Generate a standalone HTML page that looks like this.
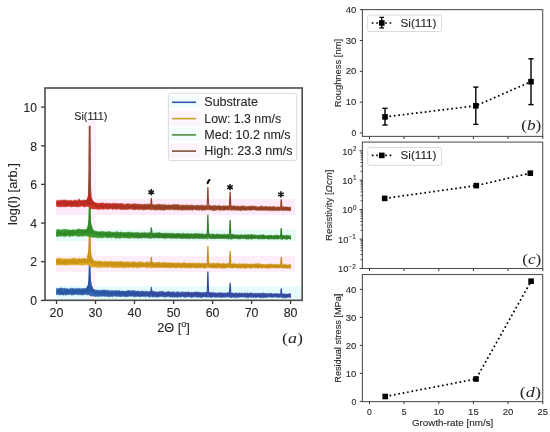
<!DOCTYPE html><html><head><meta charset="utf-8"><style>html,body{margin:0;padding:0;background:#fff}svg{display:block;will-change:transform;filter:blur(0.3px)}text{font-family:"Liberation Sans",sans-serif;fill:#262626;stroke:#262626;stroke-width:0.1px}</style></head><body>
<svg width="550" height="432" viewBox="0 0 550 432">
<rect x="56" y="286" width="246" height="14" fill="#e6fbfb"/>
<rect x="56" y="256" width="239" height="16" fill="#fdeefa"/>
<rect x="56" y="229.5" width="240" height="11.5" fill="#e6fbf8"/>
<rect x="56" y="199" width="239" height="16" fill="#fdeafa"/>
<rect x="87.5" y="118" width="8.5" height="182" fill="#fdf3fc"/>
<defs><linearGradient id="gsub" x1="0" x2="1" y1="0" y2="0"><stop offset="0" stop-color="#3467b2"/><stop offset="0.2" stop-color="#3467b2"/><stop offset="0.45" stop-color="#3b56a8"/><stop offset="1" stop-color="#3b56a8"/></linearGradient>
<linearGradient id="hsub" x1="0" x2="1" y1="0" y2="0"><stop offset="0" stop-color="#2c55a2"/><stop offset="0.2" stop-color="#2c55a2"/><stop offset="0.45" stop-color="#34489e"/><stop offset="1" stop-color="#34489e"/></linearGradient></defs>
<path d="M56.5,288.3 57.7,288.7 58.8,288.6 60.0,288.1 61.2,288.1 62.4,288.1 63.5,288.5 64.7,288.2 65.9,288.7 67.0,288.6 68.2,289.1 69.4,288.9 70.5,288.2 71.7,288.4 72.9,288.3 74.1,288.7 75.2,288.7 76.4,288.2 77.6,288.8 78.7,288.5 79.9,288.6 81.1,288.9 82.3,288.4 83.4,288.7 84.6,288.9 85.8,289.2 86.9,288.6 88.1,288.3 89.3,288.2 90.4,290.4 91.6,290.5 92.8,290.4 94.0,290.3 95.1,290.6 96.3,290.3 97.5,289.9 98.6,290.5 99.8,290.7 101.0,290.3 102.2,290.0 103.3,290.1 104.5,290.0 105.7,290.1 106.8,290.4 108.0,290.2 109.2,290.6 110.3,290.9 111.5,290.4 112.7,290.5 113.9,291.2 115.0,290.4 116.2,290.5 117.4,290.9 118.5,290.3 119.7,290.7 120.9,291.3 122.1,290.9 123.2,291.1 124.4,291.3 125.6,291.3 126.7,290.9 127.9,290.6 129.1,290.6 130.2,290.8 131.4,290.9 132.6,290.6 133.8,290.7 134.9,290.7 136.1,291.3 137.3,291.0 138.4,291.1 139.6,291.6 140.8,291.2 142.0,290.9 143.1,291.2 144.3,291.7 145.5,290.9 146.6,291.4 147.8,291.5 149.0,291.5 150.1,291.8 151.3,291.3 152.5,291.2 153.7,291.6 154.8,291.4 156.0,291.9 157.2,292.0 158.3,292.0 159.5,291.4 160.7,291.5 161.9,291.2 163.0,291.5 164.2,292.2 165.4,292.2 166.5,292.2 167.7,291.5 168.9,291.5 170.0,292.0 171.2,292.2 172.4,292.1 173.6,291.5 174.7,292.4 175.9,292.2 177.1,291.7 178.2,291.8 179.4,292.5 180.6,292.0 181.8,292.3 182.9,291.7 184.1,292.5 185.3,291.8 186.4,292.6 187.6,292.0 188.8,291.8 189.9,292.7 191.1,292.3 192.3,292.2 193.5,292.6 194.6,292.1 195.8,292.1 197.0,292.1 198.1,292.0 199.3,292.3 200.5,292.5 201.7,292.4 202.8,292.5 204.0,292.5 205.2,292.5 206.3,292.0 207.5,292.2 208.7,292.8 209.8,292.4 211.0,292.7 212.2,292.2 213.4,292.4 214.5,293.0 215.7,292.8 216.9,293.1 218.0,292.9 219.2,292.8 220.4,292.7 221.6,292.8 222.7,293.0 223.9,293.3 225.1,292.9 226.2,293.2 227.4,292.5 228.6,292.5 229.7,292.5 230.9,293.3 232.1,292.7 233.3,293.2 234.4,293.4 235.6,292.8 236.8,293.0 237.9,293.6 239.1,292.8 240.3,293.2 241.5,292.9 242.6,293.4 243.8,293.3 245.0,292.7 246.1,293.4 247.3,292.8 248.5,293.6 249.6,292.9 250.8,292.9 252.0,293.1 253.2,293.3 254.3,293.7 255.5,293.1 256.7,293.5 257.8,293.0 259.0,293.7 260.2,293.1 261.4,293.6 262.5,293.1 263.7,293.1 264.9,293.5 266.0,293.6 267.2,293.4 268.4,293.7 269.5,293.3 270.7,293.2 271.9,293.5 273.1,294.0 274.2,293.7 275.4,293.6 276.6,293.5 277.7,294.0 278.9,293.5 280.1,294.3 281.3,294.2 282.4,293.9 283.6,293.8 284.8,294.1 285.9,293.8 287.1,294.2 288.3,293.9 289.4,293.5 290.6,293.6 290.6,297.8 289.4,297.1 288.3,297.3 287.1,297.6 285.9,297.8 284.8,298.0 283.6,297.5 282.4,297.8 281.3,297.4 280.1,297.1 278.9,297.4 277.7,297.5 276.6,297.0 275.4,297.0 274.2,297.1 273.1,297.2 271.9,297.2 270.7,297.1 269.5,297.1 268.4,297.1 267.2,297.0 266.0,297.8 264.9,297.2 263.7,297.7 262.5,297.7 261.4,297.7 260.2,297.8 259.0,297.3 257.8,296.9 256.7,297.5 255.5,297.8 254.3,297.1 253.2,297.7 252.0,297.0 250.8,297.6 249.6,297.1 248.5,297.8 247.3,297.8 246.1,297.3 245.0,297.1 243.8,297.2 242.6,296.8 241.5,297.1 240.3,297.1 239.1,297.2 237.9,297.6 236.8,297.2 235.6,297.7 234.4,297.7 233.3,296.9 232.1,297.4 230.9,297.6 229.7,297.4 228.6,296.9 227.4,297.1 226.2,296.8 225.1,297.6 223.9,296.9 222.7,297.5 221.6,297.6 220.4,297.2 219.2,297.3 218.0,297.2 216.9,297.1 215.7,297.4 214.5,297.1 213.4,296.9 212.2,297.2 211.0,297.4 209.8,297.1 208.7,297.1 207.5,297.1 206.3,297.4 205.2,296.8 204.0,296.6 202.8,297.1 201.7,297.5 200.5,297.4 199.3,297.0 198.1,297.4 197.0,296.9 195.8,297.1 194.6,296.8 193.5,296.7 192.3,297.4 191.1,297.4 189.9,297.1 188.8,296.5 187.6,297.0 186.4,297.1 185.3,297.3 184.1,297.2 182.9,296.6 181.8,296.6 180.6,297.4 179.4,296.8 178.2,297.2 177.1,297.2 175.9,296.9 174.7,297.2 173.6,297.0 172.4,297.2 171.2,296.8 170.0,297.3 168.9,296.5 167.7,296.6 166.5,296.7 165.4,297.3 164.2,296.8 163.0,297.0 161.9,296.6 160.7,296.3 159.5,296.8 158.3,297.0 157.2,297.1 156.0,297.2 154.8,296.5 153.7,297.0 152.5,297.0 151.3,296.6 150.1,296.9 149.0,297.2 147.8,296.2 146.6,296.3 145.5,297.1 144.3,296.3 143.1,296.4 142.0,296.2 140.8,296.6 139.6,297.1 138.4,296.2 137.3,296.5 136.1,296.2 134.9,297.0 133.8,296.4 132.6,296.2 131.4,296.1 130.2,296.2 129.1,296.1 127.9,296.7 126.7,296.4 125.6,296.8 124.4,296.8 123.2,296.0 122.1,296.6 120.9,296.7 119.7,296.5 118.5,296.4 117.4,296.2 116.2,296.4 115.0,296.1 113.9,296.0 112.7,296.8 111.5,296.3 110.3,296.7 109.2,296.7 108.0,296.3 106.8,296.7 105.7,296.1 104.5,296.6 103.3,295.9 102.2,296.2 101.0,296.4 99.8,296.0 98.6,296.7 97.5,296.4 96.3,296.3 95.1,296.6 94.0,296.1 92.8,296.2 91.6,295.9 90.4,296.1 89.3,294.9 88.1,294.7 86.9,295.0 85.8,294.3 84.6,294.5 83.4,295.1 82.3,294.8 81.1,294.9 79.9,294.6 78.7,294.8 77.6,294.7 76.4,294.5 75.2,294.3 74.1,294.7 72.9,294.9 71.7,295.1 70.5,294.4 69.4,294.6 68.2,294.4 67.0,294.7 65.9,295.3 64.7,294.6 63.5,295.2 62.4,294.5 61.2,294.8 60.0,294.9 58.8,294.8 57.7,294.5 56.5,294.6Z" fill="url(#gsub)" stroke="url(#gsub)" stroke-width="0.6" stroke-linejoin="round"/>
<path d="M83.03,291.23 83.23,291.20 83.42,291.17 83.62,291.13 83.81,291.10 84.01,291.06 84.20,291.01 84.40,290.96 84.59,290.91 84.79,290.85 84.98,290.78 85.18,290.70 85.37,290.62 85.57,290.52 85.77,290.41 85.96,290.28 86.16,290.14 86.35,289.97 86.55,289.78 86.74,289.55 86.94,289.29 87.13,288.97 87.33,288.59 87.36,288.51 87.40,288.42 87.44,288.33 87.48,288.24 87.52,288.14 87.56,288.04 87.60,287.93 87.64,287.82 87.68,287.70 87.72,287.58 87.76,287.46 87.79,287.33 87.83,287.19 87.87,287.05 87.91,286.90 87.95,286.75 87.99,286.59 88.03,286.42 88.07,286.24 88.11,286.06 88.15,285.86 88.18,285.66 88.22,285.44 88.26,285.22 88.30,284.98 88.34,284.73 88.38,284.47 88.42,284.19 88.46,283.90 88.50,283.59 88.54,283.26 88.57,282.91 88.61,282.53 88.65,282.13 88.69,281.70 88.73,281.24 88.77,280.74 88.81,280.20 88.85,279.61 88.89,278.96 88.93,278.24 88.96,277.45 89.00,276.56 89.04,275.56 89.08,274.42 89.12,273.11 89.16,271.60 89.20,269.83 89.24,267.75 89.28,265.27 89.32,262.29 89.35,258.72 89.39,254.41 89.43,249.26 89.47,243.21 89.51,236.39 89.55,229.22 89.59,222.57 89.63,217.72 89.67,217.28 89.71,219.07 89.75,223.91 89.78,230.54 89.82,237.69 89.86,244.48 89.90,250.48 89.94,255.59 89.98,259.85 90.02,263.37 90.06,266.28 90.10,268.70 90.14,270.72 90.17,272.41 90.21,273.86 90.25,275.09 90.29,276.16 90.33,277.10 90.37,277.92 90.41,278.65 90.45,279.30 90.49,279.88 90.53,280.41 90.56,280.90 90.60,281.35 90.64,281.76 90.68,282.14 90.72,282.50 90.76,282.84 90.80,283.15 90.84,283.45 90.88,283.73 90.92,284.00 90.95,284.25 90.99,284.50 91.03,284.73 91.07,284.95 91.11,285.17 91.15,285.37 91.19,285.57 91.23,285.76 91.27,285.95 91.31,286.12 91.34,286.30 91.38,286.46 91.42,286.62 91.46,286.78 91.50,286.93 91.54,287.07 91.58,287.21 91.62,287.35 91.66,287.48 91.70,287.61 91.74,287.74 91.77,287.86 91.81,287.98 91.85,288.09 91.89,288.20 91.93,288.31 91.97,288.41 92.01,288.52 92.20,288.99 92.40,289.39 92.59,289.75 92.79,290.07 92.98,290.34 93.18,290.59 93.37,290.81 93.57,291.00 93.76,291.17 93.96,291.33 94.15,291.47 94.35,291.59 94.54,291.71 94.74,291.81 94.93,291.91 95.13,291.99 95.32,292.07 95.52,292.14 95.72,292.21 95.91,292.27 96.11,292.33 96.30,292.38 96.50,292.43 96.69,292.47 96.89,292.52 97.08,292.56 97.28,292.59 97.47,292.63 97.67,292.66 97.86,292.69 98.06,292.72 98.25,292.75 98.45,292.77 98.64,292.80 98.84,292.82 99.03,292.84 99.23,292.87 99.42,293.30 83.03,291.70Z" fill="#2c55a2"/>
<path d="M56.5,292.8 56.7,293.2 57.0,293.6 57.2,290.1 57.4,290.0 57.7,290.9 57.9,292.7 58.1,292.9 58.4,292.6 58.6,291.9 58.8,293.3 59.1,291.9 59.3,292.8 59.5,289.5 59.8,289.5 60.0,291.5 60.2,292.9 60.5,289.5 60.7,292.6 60.9,292.3 61.2,294.0 61.4,292.2 61.7,291.8 61.9,291.7 62.1,293.0 62.4,291.7 62.6,293.9 62.8,292.8 63.1,293.5 63.3,292.1 63.5,293.8 63.8,293.9 64.0,292.6 64.2,292.9 64.5,291.3 64.7,291.5 64.9,290.5 65.2,290.9 65.4,290.7 65.6,289.9 65.9,292.2 66.1,292.5 66.3,289.5 66.6,293.3 66.8,290.6 67.0,291.0 67.3,293.7 67.5,290.1 67.7,289.9 68.0,291.1 68.2,290.6 68.4,290.2 68.7,293.3 68.9,291.5 69.1,291.6 69.4,290.1 69.6,290.3 69.8,290.2 70.1,291.3 70.3,289.9 70.5,290.8 70.8,290.8 71.0,292.9 71.2,293.7 71.5,293.3 71.7,292.3 72.0,293.4 72.2,290.1 72.4,291.4 72.7,291.1 72.9,291.1 73.1,290.8 73.4,291.7 73.6,293.8 73.8,290.3 74.1,290.5 74.3,291.6 74.5,291.5 74.8,290.9 75.0,293.5 75.2,290.5 75.5,292.7 75.7,293.5 75.9,292.6 76.2,290.6 76.4,292.9 76.6,290.5 76.9,289.5 77.1,291.6 77.3,292.1 77.6,291.6 77.8,290.6 78.0,290.1 78.3,290.4 78.5,289.7 78.6,291.9 78.7,291.5 78.9,291.2 79.0,289.2 79.2,291.8 79.4,291.0 79.7,293.5 79.9,293.4 80.1,292.5 80.4,290.7 80.6,290.6 80.8,290.7 81.1,292.3 81.3,291.3 81.6,291.5 81.8,291.5 82.0,293.0 82.3,289.6 82.5,292.6 82.7,289.2 83.0,289.3 83.2,293.3 83.4,291.3 83.7,289.7 83.9,289.0 84.1,291.3 84.4,292.0 84.6,292.2 84.8,288.9 85.1,292.0 85.3,290.3 85.5,292.1 85.8,290.3 86.0,288.3 86.2,291.7 86.5,288.5 86.7,289.6 86.9,287.6 87.2,288.0 87.4,289.6 87.6,286.1 87.9,287.1 88.1,288.1 88.2,287.8 88.3,285.3 88.3,284.9 88.4,285.0 88.5,285.1 88.6,283.1 88.7,282.4 88.7,280.8 88.8,280.9 88.9,278.6 89.0,277.0 89.0,276.1 89.1,272.5 89.2,269.5 89.3,264.7 89.4,259.0 89.4,249.4 89.5,236.5 89.6,221.9 89.7,217.2 89.7,224.1 89.8,237.8 89.9,250.8 90.0,260.5 90.1,266.8 90.1,270.2 90.2,274.2 90.3,275.6 90.4,278.3 90.4,279.6 90.5,280.4 90.6,281.8 90.7,282.3 90.8,282.2 90.8,281.8 90.9,282.7 91.0,283.9 91.1,283.2 91.1,283.5 91.2,285.6 91.3,285.2 91.4,288.4 91.5,285.8 91.5,287.3 91.6,286.3 91.7,287.0 91.8,288.8 91.9,290.0 91.9,286.5 92.0,290.1 92.1,288.8 92.2,289.6 92.2,289.9 92.3,288.2 92.4,287.4 92.5,290.6 92.6,289.0 92.6,290.7 92.7,289.7 92.8,290.5 93.0,291.8 93.3,292.1 93.5,292.2 93.7,289.4 94.0,291.3 94.2,292.7 94.4,289.9 94.7,289.7 94.9,292.1 95.1,293.5 95.4,293.4 95.6,293.9 95.8,292.9 96.1,294.1 96.3,293.5 96.5,293.5 96.8,292.2 97.0,290.9 97.2,291.5 97.5,293.0 97.7,293.0 97.9,292.6 98.2,293.3 98.4,293.5 98.6,294.6 98.9,293.8 99.1,290.9 99.3,294.5 99.6,292.9 99.8,292.4 100.0,291.4 100.3,294.2 100.5,293.9 100.7,294.1 101.0,293.4 101.2,293.3 101.5,291.1 101.7,291.6 101.9,291.5 102.2,295.1 102.4,295.1 102.6,292.2 102.9,291.5 103.1,293.3 103.3,292.8 103.6,295.3 103.8,293.6 104.0,291.4 104.3,291.8 104.5,291.7 104.7,291.3 105.0,294.3 105.2,294.9 105.4,294.7 105.7,293.2 105.9,292.5 106.1,291.4 106.4,292.4 106.6,292.7 106.8,292.2 107.1,293.5 107.3,293.1 107.5,295.2 107.8,292.2 108.0,294.4 108.2,291.6 108.5,292.7 108.7,294.2 108.9,294.9 109.2,294.4 109.4,292.8 109.6,292.6 109.9,295.0 110.1,295.2 110.3,293.3 110.6,293.1 110.8,293.9 111.0,294.6 111.3,293.0 111.5,295.4 111.8,294.2 112.0,293.6 112.2,291.6 112.5,292.9 112.7,291.9 112.9,293.6 113.2,294.5 113.4,294.5 113.6,291.6 113.9,292.7 114.1,294.3 114.3,295.4 114.6,293.5 114.8,292.8 115.0,293.8 115.3,294.5 115.5,292.8 115.7,291.8 116.0,294.6 116.2,295.4 116.4,294.2 116.7,293.9 116.9,292.8 117.1,294.8 117.4,292.4 117.6,292.6 117.8,293.5 118.1,294.8 118.3,291.7 118.5,294.3 118.8,292.3 119.0,294.7 119.2,294.7 119.5,292.6 119.7,294.4 119.9,291.8 120.2,293.6 120.4,294.9 120.6,294.7 120.9,294.0 121.1,293.0 121.4,291.8 121.6,295.0 121.8,294.1 122.1,294.8 122.3,291.8 122.5,295.1 122.8,295.4 123.0,295.4 123.2,294.1 123.5,292.1 123.7,292.1 123.9,292.8 124.2,291.7 124.4,292.0 124.6,294.4 124.9,294.9 125.1,292.0 125.3,292.7 125.6,295.6 125.8,293.1 126.0,294.2 126.3,294.2 126.5,294.4 126.7,295.0 127.0,295.7 127.2,294.6 127.4,294.3 127.7,291.9 127.9,295.2 128.1,291.9 128.4,294.9 128.6,294.3 128.8,292.5 129.1,292.5 129.3,294.0 129.5,295.5 129.8,293.9 130.0,294.3 130.2,292.1 130.5,295.0 130.7,294.3 131.0,292.2 131.2,295.6 131.4,294.1 131.7,292.6 131.9,292.8 132.1,295.6 132.4,295.6 132.6,295.5 132.8,292.2 133.1,294.8 133.3,292.9 133.5,292.3 133.8,294.5 134.0,294.7 134.2,292.1 134.5,293.4 134.7,294.8 134.9,293.0 135.2,294.6 135.4,294.7 135.6,295.8 135.9,292.9 136.1,292.3 136.3,293.4 136.6,292.2 136.8,295.7 137.0,294.9 137.3,294.0 137.5,292.1 137.7,292.2 138.0,294.3 138.2,294.9 138.4,294.2 138.7,293.9 138.9,292.3 139.1,295.1 139.4,292.8 139.6,293.0 139.8,292.7 140.1,292.9 140.3,293.5 140.5,294.6 140.8,294.6 141.0,294.5 141.3,292.9 141.5,295.6 141.7,295.1 142.0,293.0 142.2,294.9 142.4,295.6 142.7,295.7 142.9,293.8 143.1,294.6 143.4,292.2 143.6,292.5 143.8,292.1 144.1,294.9 144.3,295.6 144.5,295.5 144.8,294.0 145.0,293.2 145.2,294.2 145.5,295.0 145.7,294.3 145.9,293.6 146.2,293.4 146.4,293.1 146.6,292.7 146.9,293.4 147.1,295.5 147.3,292.8 147.6,294.8 147.8,293.8 148.0,294.5 148.3,293.2 148.5,295.2 148.7,295.0 149.0,295.0 149.2,295.4 149.4,292.6 149.7,293.7 149.9,294.6 150.1,294.3 150.4,291.8 150.6,293.1 150.9,291.8 151.1,288.9 151.2,288.0 151.3,287.4 151.4,288.4 151.6,289.1 151.8,290.4 152.0,291.8 152.3,292.1 152.5,295.6 152.7,294.8 153.0,295.5 153.2,295.3 153.4,292.4 153.7,293.8 153.9,292.6 154.1,294.6 154.4,292.8 154.6,294.3 154.8,295.0 155.1,293.1 155.3,292.5 155.5,295.6 155.8,293.8 156.0,293.7 156.2,295.2 156.5,294.6 156.7,295.5 156.9,295.3 157.2,295.1 157.4,293.8 157.6,293.6 157.9,295.3 158.1,296.0 158.3,294.8 158.6,293.5 158.8,295.3 159.0,294.9 159.3,295.3 159.5,293.1 159.7,294.0 160.0,295.8 160.2,295.7 160.4,294.6 160.7,294.0 160.9,293.7 161.2,295.7 161.4,295.4 161.6,293.5 161.9,294.6 162.1,295.0 162.3,294.9 162.6,292.6 162.8,294.9 163.0,294.0 163.3,294.8 163.5,294.6 163.7,293.0 164.0,292.5 164.2,294.8 164.4,295.4 164.7,293.5 164.9,295.3 165.1,296.0 165.4,292.9 165.6,294.6 165.8,293.2 166.1,294.6 166.3,292.9 166.5,294.4 166.8,295.5 167.0,296.0 167.2,294.1 167.5,293.8 167.7,292.9 167.9,295.8 168.2,293.9 168.4,294.8 168.6,294.3 168.9,295.6 169.1,295.1 169.3,294.3 169.6,292.8 169.8,295.7 170.0,294.4 170.3,293.3 170.5,292.7 170.8,295.4 171.0,295.7 171.2,292.8 171.5,292.7 171.7,294.4 171.9,295.9 172.2,292.9 172.4,294.8 172.6,293.0 172.9,294.0 173.1,293.3 173.3,295.6 173.6,293.4 173.8,295.4 174.0,294.7 174.3,293.2 174.5,293.3 174.7,295.5 175.0,295.4 175.2,294.8 175.4,294.4 175.7,294.8 175.9,295.7 176.1,295.3 176.4,293.7 176.6,293.1 176.8,296.0 177.1,294.2 177.3,293.6 177.5,296.0 177.8,293.3 178.0,295.8 178.2,294.1 178.5,294.3 178.7,294.0 178.9,295.1 179.2,294.7 179.4,294.2 179.6,294.7 179.9,293.9 180.1,294.7 180.3,294.7 180.6,296.1 180.8,294.1 181.1,294.5 181.3,295.4 181.5,293.6 181.8,293.5 182.0,294.6 182.2,295.6 182.5,294.6 182.7,295.8 182.9,295.8 183.2,294.8 183.4,295.9 183.6,294.7 183.9,294.5 184.1,296.1 184.3,294.1 184.6,295.9 184.8,293.8 185.0,293.6 185.3,294.5 185.5,296.0 185.7,294.5 186.0,295.0 186.2,293.0 186.4,295.8 186.7,293.4 186.9,292.9 187.1,293.8 187.4,293.5 187.6,295.6 187.8,293.0 188.1,294.6 188.3,293.1 188.5,293.2 188.8,295.7 189.0,293.6 189.2,293.2 189.5,296.0 189.7,295.1 189.9,293.8 190.2,295.7 190.4,293.3 190.7,295.4 190.9,293.6 191.1,295.8 191.4,294.6 191.6,293.2 191.8,295.6 192.1,295.4 192.3,294.6 192.5,295.2 192.8,296.2 193.0,295.7 193.2,295.8 193.5,293.2 193.7,294.1 193.9,293.4 194.2,295.7 194.4,293.7 194.6,295.9 194.9,294.6 195.1,294.2 195.3,295.1 195.6,293.5 195.8,294.5 196.0,294.4 196.3,293.4 196.5,296.0 196.7,293.1 197.0,294.3 197.2,295.0 197.4,293.7 197.7,295.5 197.9,293.1 198.1,294.5 198.4,295.2 198.6,293.9 198.8,294.9 199.1,295.8 199.3,293.9 199.5,296.2 199.8,293.7 200.0,295.5 200.2,294.3 200.5,293.2 200.7,294.5 201.0,294.2 201.2,295.3 201.4,296.3 201.7,296.2 201.9,295.9 202.1,294.4 202.4,295.0 202.6,294.7 202.8,293.5 203.1,295.9 203.3,295.6 203.5,294.3 203.8,296.3 204.0,296.4 204.2,295.2 204.5,296.0 204.7,295.2 204.9,295.7 205.2,294.5 205.4,294.5 205.6,295.7 205.9,294.4 206.1,294.8 206.3,295.8 206.6,293.0 206.8,294.7 207.0,293.9 207.3,291.1 207.5,282.8 207.7,273.8 207.8,272.8 207.9,271.7 208.0,272.4 208.0,273.4 208.2,279.7 208.4,287.9 208.7,292.6 208.9,293.2 209.1,294.4 209.4,293.2 209.6,294.0 209.8,295.6 210.1,293.6 210.3,296.3 210.6,294.8 210.8,295.1 211.0,295.7 211.3,296.2 211.5,294.0 211.7,296.4 212.0,294.7 212.2,293.5 212.4,296.0 212.7,295.8 212.9,294.5 213.1,294.9 213.4,294.5 213.6,293.9 213.8,295.9 214.1,295.5 214.3,295.5 214.5,296.3 214.8,293.7 215.0,294.0 215.2,294.2 215.5,296.4 215.7,293.9 215.9,294.2 216.2,295.0 216.4,294.2 216.6,295.1 216.9,295.8 217.1,296.1 217.3,295.8 217.6,296.3 217.8,295.4 218.0,294.2 218.3,294.4 218.5,293.9 218.7,294.3 219.0,295.7 219.2,294.8 219.4,295.2 219.7,294.1 219.9,294.9 220.1,295.7 220.4,294.5 220.6,293.6 220.9,295.8 221.1,293.8 221.3,296.4 221.6,295.7 221.8,295.8 222.0,294.3 222.3,293.7 222.5,294.3 222.7,295.5 223.0,293.9 223.2,295.5 223.4,295.8 223.7,293.8 223.9,294.6 224.1,294.4 224.4,294.5 224.6,293.6 224.8,295.1 225.1,294.0 225.3,294.4 225.5,294.0 225.8,295.2 226.0,294.4 226.2,294.8 226.5,295.6 226.7,295.9 226.9,294.7 227.2,296.3 227.4,293.8 227.6,296.1 227.9,296.4 228.1,296.2 228.3,293.8 228.6,295.4 228.8,295.9 229.0,296.0 229.3,295.4 229.5,291.9 229.7,288.8 230.0,284.2 230.0,283.7 230.1,283.4 230.2,283.4 230.3,283.9 230.5,287.1 230.7,290.7 230.9,292.6 231.2,295.7 231.4,293.7 231.6,293.8 231.9,293.8 232.1,296.2 232.3,296.0 232.6,296.2 232.8,296.5 233.0,294.1 233.3,294.2 233.5,294.7 233.7,294.2 234.0,294.7 234.2,295.7 234.4,296.3 234.7,296.3 234.9,294.4 235.1,296.0 235.4,295.7 235.6,295.4 235.8,296.5 236.1,295.8 236.3,295.8 236.5,294.5 236.8,295.5 237.0,295.7 237.2,293.8 237.5,295.2 237.7,294.2 237.9,294.8 238.2,296.5 238.4,295.4 238.6,295.4 238.9,294.4 239.1,295.6 239.3,294.6 239.6,295.1 239.8,296.0 240.1,294.2 240.3,296.4 240.5,294.3 240.8,296.1 241.0,296.6 241.2,296.0 241.5,294.5 241.7,293.9 241.9,296.6 242.2,295.2 242.4,295.2 242.6,294.4 242.9,296.1 243.1,295.2 243.3,295.7 243.6,294.3 243.8,295.9 244.0,294.0 244.3,295.8 244.5,296.0 244.7,294.7 245.0,295.3 245.2,296.3 245.4,294.9 245.7,296.4 245.9,294.5 246.1,294.7 246.4,294.5 246.6,294.9 246.8,295.7 247.1,295.6 247.3,295.6 247.5,294.2 247.8,296.4 248.0,294.2 248.2,296.6 248.5,296.1 248.7,295.9 248.9,294.2 249.2,295.3 249.4,295.6 249.6,294.3 249.9,296.0 250.1,295.4 250.4,295.2 250.6,294.6 250.8,294.6 251.1,294.9 251.3,295.7 251.5,295.8 251.8,296.3 252.0,294.4 252.2,294.9 252.5,294.7 252.7,296.2 252.9,295.5 253.2,294.6 253.4,295.1 253.6,296.4 253.9,295.5 254.1,294.3 254.3,296.1 254.6,296.2 254.8,295.9 255.0,294.8 255.3,294.5 255.5,296.3 255.7,296.3 256.0,296.1 256.2,295.8 256.4,295.3 256.7,296.3 256.9,295.8 257.1,296.2 257.4,294.1 257.6,294.8 257.8,296.5 258.1,294.2 258.3,296.5 258.5,295.7 258.8,294.1 259.0,294.6 259.2,294.8 259.5,295.6 259.7,296.2 260.0,295.1 260.2,296.5 260.4,296.2 260.7,295.7 260.9,296.7 261.1,295.7 261.4,294.7 261.6,294.9 261.8,295.4 262.1,295.1 262.3,295.5 262.5,296.4 262.8,295.2 263.0,295.7 263.2,294.8 263.5,294.4 263.7,295.6 263.9,295.3 264.2,294.8 264.4,295.7 264.6,296.2 264.9,294.9 265.1,294.5 265.3,294.8 265.6,295.0 265.8,294.6 266.0,295.0 266.3,295.1 266.5,295.6 266.7,296.0 267.0,295.2 267.2,296.5 267.4,295.7 267.7,294.8 267.9,295.0 268.1,295.2 268.4,296.2 268.6,295.7 268.8,295.6 269.1,295.2 269.3,295.8 269.5,295.1 269.8,294.4 270.0,296.3 270.3,295.1 270.5,294.8 270.7,295.8 271.0,295.6 271.2,294.4 271.4,296.7 271.7,295.4 271.9,296.4 272.1,294.9 272.4,294.5 272.6,295.5 272.8,296.6 273.1,295.4 273.3,295.5 273.5,295.0 273.8,295.5 274.0,295.2 274.2,294.8 274.5,295.5 274.7,295.8 274.9,294.5 275.2,296.3 275.4,295.1 275.6,295.9 275.9,295.0 276.1,296.5 276.3,294.4 276.6,296.0 276.8,296.7 277.0,296.2 277.3,295.9 277.5,296.8 277.7,295.8 278.0,295.8 278.2,295.1 278.4,296.0 278.7,296.2 278.9,296.3 279.1,295.0 279.4,294.6 279.6,295.5 279.9,296.2 280.1,294.7 280.3,295.5 280.6,295.3 280.8,293.3 281.0,290.2 281.1,289.1 281.3,288.8 281.4,289.3 281.5,290.3 281.7,293.7 282.0,293.5 282.2,295.6 282.4,295.1 282.7,294.8 282.9,294.9 283.1,295.7 283.4,296.2 283.6,295.6 283.8,296.6 284.1,294.9 284.3,296.0 284.5,294.9 284.8,296.2 285.0,296.0 285.2,296.3 285.5,295.9 285.7,296.5 285.9,296.9 286.2,295.2 286.4,296.2 286.6,296.3 286.9,296.2 287.1,295.8 287.3,295.9 287.6,295.4 287.8,295.4 288.0,296.1 288.3,294.7 288.5,294.9 288.7,296.8 289.0,295.0 289.2,294.8 289.4,295.1 289.7,296.6 289.9,295.0 290.2,295.4 290.4,296.9 290.6,296.9" fill="none" stroke="url(#hsub)" stroke-width="1.1" stroke-linejoin="round"/>
<defs><linearGradient id="glow" x1="0" x2="1" y1="0" y2="0"><stop offset="0" stop-color="#d9a31e"/><stop offset="0.2" stop-color="#d9a31e"/><stop offset="0.45" stop-color="#d49b1e"/><stop offset="1" stop-color="#d49b1e"/></linearGradient>
<linearGradient id="hlow" x1="0" x2="1" y1="0" y2="0"><stop offset="0" stop-color="#c99414"/><stop offset="0.2" stop-color="#c99414"/><stop offset="0.45" stop-color="#c48c14"/><stop offset="1" stop-color="#c48c14"/></linearGradient></defs>
<path d="M56.5,259.0 57.7,258.3 58.8,258.2 60.0,258.8 61.2,258.2 62.4,258.9 63.5,259.0 64.7,258.9 65.9,259.0 67.0,258.9 68.2,258.8 69.4,258.9 70.5,259.0 71.7,258.4 72.9,258.3 74.1,258.2 75.2,258.3 76.4,258.7 77.6,259.0 78.7,259.0 79.9,258.7 81.1,259.0 82.3,258.6 83.4,258.3 84.6,258.9 85.8,258.8 86.9,259.2 88.1,259.2 89.3,258.7 90.4,260.6 91.6,261.3 92.8,261.5 94.0,261.2 95.1,261.5 96.3,261.2 97.5,261.3 98.6,261.1 99.8,261.2 101.0,261.1 102.2,261.9 103.3,261.7 104.5,261.3 105.7,261.6 106.8,261.8 108.0,261.7 109.2,261.6 110.3,261.4 111.5,261.3 112.7,261.7 113.9,261.9 115.0,261.8 116.2,261.8 117.4,261.8 118.5,261.4 119.7,261.7 120.9,261.4 122.1,261.3 123.2,262.2 124.4,261.7 125.6,262.2 126.7,261.7 127.9,261.8 129.1,261.9 130.2,262.4 131.4,262.1 132.6,261.6 133.8,262.1 134.9,262.0 136.1,262.0 137.3,262.5 138.4,262.1 139.6,261.7 140.8,261.9 142.0,261.7 143.1,262.4 144.3,262.7 145.5,262.6 146.6,261.8 147.8,262.0 149.0,262.0 150.1,262.6 151.3,262.7 152.5,262.0 153.7,262.6 154.8,262.8 156.0,262.9 157.2,262.0 158.3,262.6 159.5,262.1 160.7,262.7 161.9,262.9 163.0,262.1 164.2,262.7 165.4,262.8 166.5,262.9 167.7,262.8 168.9,262.6 170.0,263.0 171.2,263.0 172.4,262.5 173.6,263.2 174.7,263.1 175.9,262.9 177.1,263.1 178.2,262.6 179.4,263.2 180.6,263.0 181.8,263.3 182.9,262.7 184.1,262.7 185.3,263.0 186.4,263.3 187.6,263.3 188.8,263.4 189.9,262.8 191.1,263.3 192.3,263.5 193.5,262.7 194.6,263.4 195.8,263.4 197.0,262.9 198.1,263.3 199.3,262.9 200.5,263.4 201.7,263.2 202.8,263.5 204.0,263.0 205.2,263.7 206.3,263.3 207.5,263.4 208.7,263.0 209.8,263.5 211.0,263.4 212.2,263.4 213.4,262.9 214.5,263.3 215.7,263.6 216.9,263.1 218.0,263.3 219.2,263.0 220.4,264.0 221.6,263.5 222.7,263.3 223.9,263.5 225.1,263.9 226.2,264.1 227.4,263.2 228.6,263.3 229.7,263.2 230.9,264.1 232.1,264.2 233.3,263.3 234.4,263.6 235.6,264.2 236.8,263.8 237.9,264.3 239.1,263.7 240.3,263.5 241.5,264.4 242.6,263.4 243.8,263.7 245.0,264.3 246.1,263.5 247.3,264.2 248.5,264.5 249.6,263.6 250.8,264.4 252.0,263.8 253.2,264.3 254.3,263.9 255.5,263.7 256.7,263.8 257.8,263.8 259.0,263.6 260.2,263.9 261.4,264.6 262.5,264.6 263.7,264.6 264.9,264.2 266.0,264.7 267.2,264.4 268.4,264.1 269.5,264.3 270.7,264.0 271.9,263.9 273.1,264.4 274.2,264.7 275.4,264.3 276.6,264.2 277.7,264.3 278.9,264.4 280.1,264.9 281.3,265.0 282.4,264.9 283.6,264.2 284.8,264.3 285.9,264.3 287.1,265.1 288.3,265.0 289.4,264.4 290.6,264.2 290.6,268.4 289.4,268.5 288.3,267.7 287.1,268.6 285.9,268.0 284.8,267.9 283.6,268.1 282.4,268.3 281.3,267.7 280.1,267.7 278.9,267.9 277.7,267.8 276.6,268.4 275.4,267.7 274.2,267.8 273.1,267.7 271.9,268.3 270.7,267.8 269.5,268.2 268.4,268.4 267.2,268.0 266.0,268.4 264.9,267.6 263.7,267.7 262.5,268.4 261.4,267.8 260.2,267.6 259.0,268.2 257.8,268.2 256.7,267.8 255.5,268.0 254.3,267.8 253.2,267.6 252.0,268.1 250.8,268.2 249.6,268.3 248.5,267.5 247.3,268.1 246.1,268.3 245.0,268.3 243.8,268.4 242.6,267.7 241.5,267.7 240.3,268.4 239.1,267.9 237.9,268.1 236.8,268.1 235.6,267.7 234.4,267.6 233.3,268.0 232.1,268.3 230.9,267.9 229.7,268.0 228.6,267.5 227.4,267.6 226.2,267.7 225.1,268.2 223.9,268.3 222.7,268.2 221.6,268.0 220.4,268.3 219.2,267.4 218.0,267.9 216.9,268.0 215.7,268.2 214.5,267.5 213.4,268.4 212.2,267.5 211.0,267.8 209.8,267.7 208.7,267.5 207.5,267.5 206.3,267.8 205.2,268.2 204.0,267.9 202.8,268.1 201.7,267.4 200.5,268.1 199.3,267.6 198.1,267.8 197.0,267.9 195.8,268.2 194.6,267.5 193.5,267.8 192.3,267.6 191.1,268.0 189.9,268.1 188.8,267.8 187.6,268.1 186.4,267.3 185.3,268.1 184.1,267.7 182.9,267.2 181.8,268.0 180.6,267.8 179.4,267.6 178.2,267.6 177.1,267.8 175.9,268.2 174.7,267.5 173.6,267.9 172.4,267.2 171.2,267.7 170.0,268.1 168.9,267.6 167.7,267.8 166.5,267.5 165.4,267.3 164.2,267.6 163.0,267.5 161.9,267.6 160.7,267.3 159.5,267.4 158.3,267.9 157.2,267.1 156.0,267.8 154.8,267.3 153.7,267.5 152.5,267.7 151.3,267.8 150.1,267.8 149.0,267.1 147.8,267.8 146.6,267.8 145.5,267.2 144.3,267.1 143.1,267.1 142.0,267.0 140.8,267.2 139.6,267.7 138.4,267.4 137.3,268.0 136.1,267.6 134.9,267.0 133.8,267.9 132.6,267.8 131.4,267.0 130.2,267.0 129.1,267.6 127.9,267.3 126.7,267.2 125.6,267.5 124.4,267.7 123.2,267.6 122.1,267.7 120.9,267.1 119.7,267.6 118.5,267.5 117.4,267.5 116.2,267.5 115.0,267.5 113.9,267.7 112.7,267.5 111.5,267.7 110.3,266.8 109.2,266.8 108.0,267.7 106.8,266.8 105.7,267.4 104.5,267.0 103.3,267.1 102.2,267.4 101.0,267.2 99.8,267.2 98.6,267.5 97.5,267.5 96.3,267.1 95.1,266.9 94.0,267.2 92.8,267.0 91.6,266.9 90.4,267.3 89.3,265.1 88.1,264.8 86.9,264.6 85.8,264.9 84.6,264.3 83.4,264.9 82.3,265.2 81.1,264.7 79.9,265.0 78.7,264.8 77.6,264.3 76.4,264.9 75.2,264.8 74.1,264.8 72.9,264.8 71.7,264.6 70.5,264.9 69.4,264.8 68.2,264.9 67.0,264.6 65.9,265.2 64.7,265.1 63.5,265.0 62.4,264.6 61.2,265.3 60.0,264.8 58.8,264.7 57.7,264.5 56.5,265.1Z" fill="url(#glow)" stroke="url(#glow)" stroke-width="0.6" stroke-linejoin="round"/>
<path d="M83.03,261.26 83.23,261.24 83.42,261.21 83.62,261.17 83.81,261.14 84.01,261.09 84.20,261.05 84.40,261.00 84.59,260.95 84.79,260.89 84.98,260.82 85.18,260.74 85.37,260.66 85.57,260.56 85.77,260.45 85.96,260.32 86.16,260.18 86.35,260.01 86.55,259.82 86.74,259.59 86.94,259.32 87.13,259.01 87.33,258.63 87.36,258.55 87.40,258.46 87.44,258.37 87.48,258.27 87.52,258.18 87.56,258.07 87.60,257.97 87.64,257.86 87.68,257.74 87.72,257.62 87.76,257.50 87.79,257.37 87.83,257.23 87.87,257.09 87.91,256.94 87.95,256.79 87.99,256.63 88.03,256.46 88.07,256.28 88.11,256.09 88.15,255.90 88.18,255.70 88.22,255.48 88.26,255.26 88.30,255.02 88.34,254.77 88.38,254.51 88.42,254.23 88.46,253.94 88.50,253.63 88.54,253.30 88.57,252.94 88.61,252.57 88.65,252.17 88.69,251.74 88.73,251.28 88.77,250.78 88.81,250.24 88.85,249.64 88.89,249.00 88.93,248.28 88.96,247.49 89.00,246.60 89.04,245.60 89.08,244.46 89.12,243.15 89.16,241.64 89.20,239.87 89.24,237.79 89.28,235.31 89.32,232.33 89.35,228.76 89.39,224.45 89.43,219.30 89.47,213.25 89.51,206.43 89.55,199.26 89.59,192.61 89.63,187.76 89.67,188.29 89.71,190.08 89.75,194.92 89.78,201.55 89.82,208.70 89.86,215.48 89.90,221.49 89.94,226.59 89.98,230.85 90.02,234.37 90.06,237.28 90.10,239.70 90.14,241.72 90.17,243.42 90.21,244.86 90.25,246.10 90.29,247.16 90.33,248.10 90.37,248.92 90.41,249.65 90.45,250.30 90.49,250.88 90.53,251.42 90.56,251.90 90.60,252.35 90.64,252.76 90.68,253.14 90.72,253.50 90.76,253.84 90.80,254.15 90.84,254.45 90.88,254.73 90.92,255.00 90.95,255.25 90.99,255.50 91.03,255.73 91.07,255.95 91.11,256.17 91.15,256.37 91.19,256.57 91.23,256.76 91.27,256.94 91.31,257.12 91.34,257.29 91.38,257.46 91.42,257.62 91.46,257.77 91.50,257.92 91.54,258.07 91.58,258.21 91.62,258.35 91.66,258.48 91.70,258.61 91.74,258.73 91.77,258.85 91.81,258.97 91.85,259.08 91.89,259.20 91.93,259.30 91.97,259.41 92.01,259.51 92.20,259.98 92.40,260.39 92.59,260.74 92.79,261.06 92.98,261.33 93.18,261.58 93.37,261.80 93.57,261.99 93.76,262.16 93.96,262.32 94.15,262.45 94.35,262.58 94.54,262.69 94.74,262.80 94.93,262.89 95.13,262.97 95.32,263.05 95.52,263.12 95.72,263.19 95.91,263.25 96.11,263.31 96.30,263.36 96.50,263.41 96.69,263.45 96.89,263.49 97.08,263.53 97.28,263.57 97.47,263.60 97.67,263.64 97.86,263.67 98.06,263.70 98.25,263.72 98.45,263.75 98.64,263.77 98.84,263.79 99.03,263.82 99.23,263.84 99.42,264.27 83.03,261.74Z" fill="#c99414"/>
<path d="M56.5,262.7 56.7,259.5 57.0,264.0 57.2,260.3 57.4,262.5 57.7,263.4 57.9,264.0 58.1,260.2 58.4,261.6 58.6,263.2 58.8,262.0 59.1,259.8 59.3,263.0 59.5,261.4 59.8,263.4 60.0,263.2 60.2,260.5 60.5,260.7 60.7,263.1 60.9,263.6 61.2,263.6 61.4,261.2 61.7,261.7 61.9,262.7 62.1,263.1 62.4,261.2 62.6,260.8 62.8,260.3 63.1,261.3 63.3,263.1 63.5,263.7 63.8,260.6 64.0,262.1 64.2,260.7 64.5,263.7 64.7,260.3 64.9,262.5 65.2,260.1 65.4,260.0 65.6,261.7 65.9,263.9 66.1,259.8 66.3,261.8 66.6,260.0 66.8,262.8 67.0,263.1 67.3,260.2 67.5,262.3 67.7,263.2 68.0,262.3 68.2,261.3 68.4,263.9 68.7,261.6 68.9,261.9 69.1,261.6 69.4,263.4 69.6,260.7 69.8,260.3 70.1,260.0 70.3,262.5 70.5,260.7 70.8,262.2 71.0,260.5 71.2,263.6 71.5,260.0 71.7,259.6 72.0,261.7 72.2,261.6 72.4,261.5 72.7,261.5 72.9,263.8 73.1,259.6 73.4,262.9 73.6,263.1 73.8,263.4 74.1,262.8 74.3,260.2 74.5,263.7 74.8,263.4 75.0,260.8 75.2,263.0 75.5,263.8 75.7,261.2 75.9,261.3 76.2,261.5 76.4,260.7 76.6,263.4 76.9,260.0 77.1,260.6 77.3,263.6 77.6,263.2 77.8,261.5 78.0,261.3 78.3,261.8 78.5,261.7 78.6,260.2 78.7,261.2 78.9,259.3 79.0,258.5 79.2,262.3 79.4,260.9 79.7,260.3 79.9,262.9 80.1,260.0 80.4,259.6 80.6,262.0 80.8,261.8 81.1,260.0 81.3,261.3 81.6,261.9 81.8,259.5 82.0,260.2 82.3,262.1 82.5,262.5 82.7,262.0 83.0,261.6 83.2,259.1 83.4,259.9 83.7,259.4 83.9,259.7 84.1,259.6 84.4,263.0 84.6,260.9 84.8,258.9 85.1,258.9 85.3,261.8 85.5,260.9 85.8,259.9 86.0,260.9 86.2,260.0 86.5,261.8 86.7,259.9 86.9,259.3 87.2,261.0 87.4,260.0 87.6,255.8 87.9,255.9 88.1,254.2 88.2,255.1 88.3,253.9 88.3,253.1 88.4,252.6 88.5,255.6 88.6,252.7 88.7,252.5 88.7,251.0 88.8,250.6 88.9,248.9 89.0,246.9 89.0,245.4 89.1,243.5 89.2,239.8 89.3,235.4 89.4,228.1 89.4,219.6 89.5,206.7 89.6,192.4 89.7,188.8 89.7,194.8 89.8,208.1 89.9,221.5 90.0,231.2 90.1,237.3 90.1,241.7 90.2,245.3 90.3,247.7 90.4,249.4 90.4,250.6 90.5,251.5 90.6,252.6 90.7,253.5 90.8,254.4 90.8,254.2 90.9,253.5 91.0,255.0 91.1,255.6 91.1,255.7 91.2,258.0 91.3,256.2 91.4,257.6 91.5,257.6 91.5,257.6 91.6,258.5 91.7,259.4 91.8,260.0 91.9,260.3 91.9,259.2 92.0,260.0 92.1,259.3 92.2,262.0 92.2,260.7 92.3,258.7 92.4,261.5 92.5,260.3 92.6,260.7 92.6,261.7 92.7,258.9 92.8,261.9 93.0,260.2 93.3,263.1 93.5,263.8 93.7,260.5 94.0,262.6 94.2,264.3 94.4,263.1 94.7,263.0 94.9,261.9 95.1,264.6 95.4,264.2 95.6,261.2 95.8,262.2 96.1,264.8 96.3,264.1 96.5,264.0 96.8,262.7 97.0,263.0 97.2,262.1 97.5,262.2 97.7,263.6 97.9,262.7 98.2,262.7 98.4,262.6 98.6,263.9 98.9,262.6 99.1,262.9 99.3,262.1 99.6,265.4 99.8,262.3 100.0,266.0 100.3,262.8 100.5,263.6 100.7,264.0 101.0,262.0 101.2,263.7 101.5,264.4 101.7,262.8 101.9,262.5 102.2,263.6 102.4,264.6 102.6,264.3 102.9,264.3 103.1,263.2 103.3,265.0 103.6,264.6 103.8,263.9 104.0,264.6 104.3,264.9 104.5,263.0 104.7,262.7 105.0,264.2 105.2,264.4 105.4,265.5 105.7,265.0 105.9,265.7 106.1,263.9 106.4,263.9 106.6,265.9 106.8,262.5 107.1,265.0 107.3,262.8 107.5,262.9 107.8,262.4 108.0,265.5 108.2,264.6 108.5,262.6 108.7,266.3 108.9,266.2 109.2,264.0 109.4,264.3 109.6,262.6 109.9,263.2 110.1,264.2 110.3,262.3 110.6,264.3 110.8,264.3 111.0,263.6 111.3,264.8 111.5,265.0 111.8,264.0 112.0,265.0 112.2,262.6 112.5,263.7 112.7,264.3 112.9,266.0 113.2,264.9 113.4,264.8 113.6,264.2 113.9,264.1 114.1,262.9 114.3,262.5 114.6,264.5 114.8,264.7 115.0,263.9 115.3,262.4 115.5,265.1 115.7,264.3 116.0,263.2 116.2,265.8 116.4,265.2 116.7,262.5 116.9,263.2 117.1,264.4 117.4,266.1 117.6,262.9 117.8,263.7 118.1,263.2 118.3,262.5 118.5,262.9 118.8,264.8 119.0,265.9 119.2,265.4 119.5,264.5 119.7,264.5 119.9,265.8 120.2,265.8 120.4,264.0 120.6,264.1 120.9,265.1 121.1,262.6 121.4,264.0 121.6,266.4 121.8,264.9 122.1,263.4 122.3,265.3 122.5,263.8 122.8,266.5 123.0,265.4 123.2,263.2 123.5,264.2 123.7,263.9 123.9,265.8 124.2,264.6 124.4,264.4 124.6,265.5 124.9,264.0 125.1,264.5 125.3,262.6 125.6,264.3 125.8,265.0 126.0,266.1 126.3,266.0 126.5,263.6 126.7,266.2 127.0,266.2 127.2,265.9 127.4,264.6 127.7,263.4 127.9,264.2 128.1,263.4 128.4,266.4 128.6,266.6 128.8,263.6 129.1,265.4 129.3,263.8 129.5,265.2 129.8,266.0 130.0,265.6 130.2,266.2 130.5,263.1 130.7,264.4 131.0,265.3 131.2,264.9 131.4,265.1 131.7,266.4 131.9,263.2 132.1,264.4 132.4,262.9 132.6,264.9 132.8,264.2 133.1,265.7 133.3,266.5 133.5,263.1 133.8,263.4 134.0,265.4 134.2,263.2 134.5,263.5 134.7,265.5 134.9,264.3 135.2,263.0 135.4,264.8 135.6,263.0 135.9,265.7 136.1,265.2 136.3,263.9 136.6,265.8 136.8,265.5 137.0,263.3 137.3,264.8 137.5,263.7 137.7,265.8 138.0,266.0 138.2,265.3 138.4,266.0 138.7,263.0 138.9,265.6 139.1,264.6 139.4,266.3 139.6,264.7 139.8,265.2 140.1,265.2 140.3,266.5 140.5,266.3 140.8,263.6 141.0,265.4 141.3,265.8 141.5,266.0 141.7,265.7 142.0,265.8 142.2,266.6 142.4,264.2 142.7,265.4 142.9,266.1 143.1,264.1 143.4,266.4 143.6,265.7 143.8,263.6 144.1,266.3 144.3,265.1 144.5,263.6 144.8,263.7 145.0,266.2 145.2,265.4 145.5,264.0 145.7,265.3 145.9,263.2 146.2,266.0 146.4,263.2 146.6,264.9 146.9,265.9 147.1,265.1 147.3,266.3 147.6,264.1 147.8,265.8 148.0,263.4 148.3,264.6 148.5,265.4 148.7,265.9 149.0,264.5 149.2,266.0 149.4,263.5 149.7,266.3 149.9,264.8 150.1,264.5 150.4,265.3 150.6,262.7 150.9,262.0 151.1,258.8 151.2,257.6 151.3,257.3 151.4,257.8 151.6,259.2 151.8,263.1 152.0,262.4 152.3,265.1 152.5,264.1 152.7,266.3 153.0,264.7 153.2,265.5 153.4,265.0 153.7,265.7 153.9,266.6 154.1,265.7 154.4,266.0 154.6,266.4 154.8,264.2 155.1,265.8 155.3,265.4 155.5,263.5 155.8,264.0 156.0,263.6 156.2,263.7 156.5,266.4 156.7,265.8 156.9,266.7 157.2,264.4 157.4,264.4 157.6,265.6 157.9,265.3 158.1,264.5 158.3,264.3 158.6,265.9 158.8,263.8 159.0,265.6 159.3,264.6 159.5,266.2 159.7,266.4 160.0,263.6 160.2,264.2 160.4,264.3 160.7,266.7 160.9,266.7 161.2,266.3 161.4,266.2 161.6,265.8 161.9,265.5 162.1,266.7 162.3,265.8 162.6,264.6 162.8,266.2 163.0,263.9 163.3,264.8 163.5,264.3 163.7,266.0 164.0,265.3 164.2,264.4 164.4,265.6 164.7,266.9 164.9,263.9 165.1,264.1 165.4,265.9 165.6,266.7 165.8,263.9 166.1,264.7 166.3,266.7 166.5,266.0 166.8,266.5 167.0,264.1 167.2,266.2 167.5,263.7 167.7,264.3 167.9,266.6 168.2,264.5 168.4,265.5 168.6,264.3 168.9,264.0 169.1,265.9 169.3,266.6 169.6,263.6 169.8,265.4 170.0,263.7 170.3,264.5 170.5,264.3 170.8,264.0 171.0,264.7 171.2,265.3 171.5,266.7 171.7,264.5 171.9,265.4 172.2,265.1 172.4,263.7 172.6,266.5 172.9,264.3 173.1,266.8 173.3,264.5 173.6,264.1 173.8,266.0 174.0,265.1 174.3,263.6 174.5,264.7 174.7,265.1 175.0,266.1 175.2,266.8 175.4,265.7 175.7,265.5 175.9,266.3 176.1,265.9 176.4,266.5 176.6,264.5 176.8,264.7 177.1,266.1 177.3,266.1 177.5,265.2 177.8,265.4 178.0,263.8 178.2,265.8 178.5,265.9 178.7,263.9 178.9,266.5 179.2,265.1 179.4,265.8 179.6,264.2 179.9,265.1 180.1,264.4 180.3,266.4 180.6,264.7 180.8,265.0 181.1,265.4 181.3,264.4 181.5,264.2 181.8,266.6 182.0,266.0 182.2,265.8 182.5,266.3 182.7,266.8 182.9,266.1 183.2,266.3 183.4,264.6 183.6,265.5 183.9,266.6 184.1,265.9 184.3,265.4 184.6,265.8 184.8,266.4 185.0,266.8 185.3,267.0 185.5,263.7 185.7,264.5 186.0,266.7 186.2,264.6 186.4,263.7 186.7,265.1 186.9,266.7 187.1,265.4 187.4,265.6 187.6,266.4 187.8,265.2 188.1,267.0 188.3,264.0 188.5,264.9 188.8,264.9 189.0,263.9 189.2,264.9 189.5,266.2 189.7,266.2 189.9,266.6 190.2,267.0 190.4,264.5 190.7,264.3 190.9,266.1 191.1,266.4 191.4,264.9 191.6,264.3 191.8,264.0 192.1,266.5 192.3,264.5 192.5,264.3 192.8,264.6 193.0,266.0 193.2,266.5 193.5,264.4 193.7,266.0 193.9,265.9 194.2,265.3 194.4,265.9 194.6,264.4 194.9,266.3 195.1,266.9 195.3,265.2 195.6,265.0 195.8,264.4 196.0,264.8 196.3,264.1 196.5,264.0 196.7,265.5 197.0,265.5 197.2,266.6 197.4,266.1 197.7,265.2 197.9,266.8 198.1,264.9 198.4,266.6 198.6,265.7 198.8,264.0 199.1,266.8 199.3,267.0 199.5,265.7 199.8,266.5 200.0,264.8 200.2,267.1 200.5,264.4 200.7,264.4 201.0,264.6 201.2,265.7 201.4,266.2 201.7,265.0 201.9,265.5 202.1,265.8 202.4,266.0 202.6,265.7 202.8,265.0 203.1,264.5 203.3,264.2 203.5,266.6 203.8,266.2 204.0,265.7 204.2,265.3 204.5,266.0 204.7,266.5 204.9,266.9 205.2,266.1 205.4,265.7 205.6,264.1 205.9,264.2 206.1,264.4 206.3,263.9 206.6,263.7 206.8,264.4 207.0,262.9 207.3,262.8 207.5,255.5 207.7,248.2 207.8,247.6 207.9,246.2 208.0,246.5 208.0,247.4 208.2,253.0 208.4,260.6 208.7,263.8 208.9,263.4 209.1,266.6 209.4,266.4 209.6,265.0 209.8,265.7 210.1,266.9 210.3,265.1 210.6,266.0 210.8,265.4 211.0,265.9 211.3,265.5 211.5,265.4 211.7,265.9 212.0,266.8 212.2,266.6 212.4,264.4 212.7,265.5 212.9,266.8 213.1,264.5 213.4,266.4 213.6,266.9 213.8,265.5 214.1,266.4 214.3,265.7 214.5,265.5 214.8,266.5 215.0,265.4 215.2,266.8 215.5,265.6 215.7,265.4 215.9,266.9 216.2,265.9 216.4,267.0 216.6,265.8 216.9,264.6 217.1,265.5 217.3,265.0 217.6,264.9 217.8,266.8 218.0,264.2 218.3,265.0 218.5,266.9 218.7,264.7 219.0,266.0 219.2,266.7 219.4,264.3 219.7,265.5 219.9,264.9 220.1,266.8 220.4,264.9 220.6,267.0 220.9,266.5 221.1,266.1 221.3,267.2 221.6,265.4 221.8,266.6 222.0,266.3 222.3,265.1 222.5,265.9 222.7,264.6 223.0,265.4 223.2,264.6 223.4,265.5 223.7,264.5 223.9,264.6 224.1,266.7 224.4,265.0 224.6,266.2 224.8,265.0 225.1,265.2 225.3,264.8 225.5,266.9 225.8,266.1 226.0,265.1 226.2,264.4 226.5,265.1 226.7,267.1 226.9,265.5 227.2,267.0 227.4,265.6 227.6,264.9 227.9,266.9 228.1,264.5 228.3,265.2 228.6,266.4 228.8,266.4 229.0,265.4 229.3,263.5 229.5,262.4 229.7,258.6 230.0,253.2 230.0,252.5 230.1,251.1 230.2,251.9 230.3,252.2 230.5,256.6 230.7,261.0 230.9,264.5 231.2,266.1 231.4,264.4 231.6,265.6 231.9,265.2 232.1,264.9 232.3,264.5 232.6,267.2 232.8,266.3 233.0,266.8 233.3,265.8 233.5,264.8 233.7,265.0 234.0,267.2 234.2,266.8 234.4,264.9 234.7,265.3 234.9,266.2 235.1,265.9 235.4,266.8 235.6,264.9 235.8,266.2 236.1,264.8 236.3,265.5 236.5,267.1 236.8,266.4 237.0,266.7 237.2,264.7 237.5,265.6 237.7,267.2 237.9,266.8 238.2,266.3 238.4,266.0 238.6,265.7 238.9,266.2 239.1,266.3 239.3,267.3 239.6,265.7 239.8,266.4 240.1,267.2 240.3,266.0 240.5,264.5 240.8,267.2 241.0,266.9 241.2,265.4 241.5,266.5 241.7,266.5 241.9,265.9 242.2,266.6 242.4,265.7 242.6,265.8 242.9,264.6 243.1,264.6 243.3,267.2 243.6,265.8 243.8,265.2 244.0,264.9 244.3,265.2 244.5,265.6 244.7,265.6 245.0,266.3 245.2,266.6 245.4,265.1 245.7,264.9 245.9,264.7 246.1,265.5 246.4,266.5 246.6,265.2 246.8,265.3 247.1,265.9 247.3,265.6 247.5,266.4 247.8,265.8 248.0,266.2 248.2,267.2 248.5,266.4 248.7,266.5 248.9,264.6 249.2,266.0 249.4,266.4 249.6,266.7 249.9,266.7 250.1,266.4 250.4,267.0 250.6,267.3 250.8,265.0 251.1,266.1 251.3,266.2 251.5,265.8 251.8,266.5 252.0,266.9 252.2,267.2 252.5,266.6 252.7,266.5 252.9,265.4 253.2,265.9 253.4,264.9 253.6,266.5 253.9,264.9 254.1,265.8 254.3,267.2 254.6,266.9 254.8,265.8 255.0,264.7 255.3,266.4 255.5,265.3 255.7,266.2 256.0,265.1 256.2,267.2 256.4,266.1 256.7,265.0 256.9,266.7 257.1,266.7 257.4,267.3 257.6,267.0 257.8,266.7 258.1,265.5 258.3,266.8 258.5,266.3 258.8,266.9 259.0,265.8 259.2,265.1 259.5,265.7 259.7,266.9 260.0,265.5 260.2,264.9 260.4,265.8 260.7,267.2 260.9,265.3 261.1,265.1 261.4,266.5 261.6,267.1 261.8,266.9 262.1,266.0 262.3,265.1 262.5,265.8 262.8,265.0 263.0,266.9 263.2,266.6 263.5,265.5 263.7,265.7 263.9,266.4 264.2,265.7 264.4,266.6 264.6,267.3 264.9,266.4 265.1,267.3 265.3,265.8 265.6,266.6 265.8,266.2 266.0,265.9 266.3,266.8 266.5,266.2 266.7,267.4 267.0,265.1 267.2,266.0 267.4,264.9 267.7,267.3 267.9,265.9 268.1,265.6 268.4,266.6 268.6,267.2 268.8,267.0 269.1,267.1 269.3,265.5 269.5,267.2 269.8,265.4 270.0,266.4 270.3,266.1 270.5,266.0 270.7,266.1 271.0,265.8 271.2,265.9 271.4,266.6 271.7,265.6 271.9,266.8 272.1,265.7 272.4,265.5 272.6,265.5 272.8,266.7 273.1,265.5 273.3,265.0 273.5,266.3 273.8,266.8 274.0,266.2 274.2,265.1 274.5,267.1 274.7,267.4 274.9,266.3 275.2,265.9 275.4,265.6 275.6,266.6 275.9,265.0 276.1,266.9 276.3,265.6 276.6,267.3 276.8,267.4 277.0,267.1 277.3,267.3 277.5,266.3 277.7,266.1 278.0,267.0 278.2,265.2 278.4,266.6 278.7,267.1 278.9,267.1 279.1,265.7 279.4,265.2 279.6,267.1 279.9,267.3 280.1,265.3 280.3,266.3 280.6,263.7 280.8,262.9 281.0,259.4 281.1,258.2 281.3,257.4 281.4,258.2 281.5,259.6 281.7,261.9 282.0,265.9 282.2,265.2 282.4,267.1 282.7,265.8 282.9,266.5 283.1,265.4 283.4,267.4 283.6,266.2 283.8,266.5 284.1,265.3 284.3,265.3 284.5,266.0 284.8,267.0 285.0,266.9 285.2,266.9 285.5,266.5 285.7,267.0 285.9,267.0 286.2,265.7 286.4,266.0 286.6,266.8 286.9,265.2 287.1,267.0 287.3,266.2 287.6,267.2 287.8,265.5 288.0,265.5 288.3,266.9 288.5,265.8 288.7,265.6 289.0,266.9 289.2,266.8 289.4,266.4 289.7,265.5 289.9,267.2 290.2,265.9 290.4,266.1 290.6,266.5" fill="none" stroke="url(#hlow)" stroke-width="1.1" stroke-linejoin="round"/>
<defs><linearGradient id="gmed" x1="0" x2="1" y1="0" y2="0"><stop offset="0" stop-color="#3d9b33"/><stop offset="0.2" stop-color="#3d9b33"/><stop offset="0.45" stop-color="#3b8d31"/><stop offset="1" stop-color="#3b8d31"/></linearGradient>
<linearGradient id="hmed" x1="0" x2="1" y1="0" y2="0"><stop offset="0" stop-color="#2f8a28"/><stop offset="0.2" stop-color="#2f8a28"/><stop offset="0.45" stop-color="#2f7c28"/><stop offset="1" stop-color="#2f7c28"/></linearGradient></defs>
<path d="M56.5,229.8 57.7,229.5 58.8,229.6 60.0,230.1 61.2,230.1 62.4,229.6 63.5,229.4 64.7,229.3 65.9,229.4 67.0,229.4 68.2,230.0 69.4,229.7 70.5,230.0 71.7,230.3 72.9,229.6 74.1,230.0 75.2,229.9 76.4,229.8 77.6,229.4 78.7,229.7 79.9,229.5 81.1,229.5 82.3,229.6 83.4,229.6 84.6,229.9 85.8,229.8 86.9,230.3 88.1,229.6 89.3,230.3 90.4,231.1 91.6,231.1 92.8,231.0 94.0,231.4 95.1,231.4 96.3,231.7 97.5,231.6 98.6,231.8 99.8,232.0 101.0,231.6 102.2,231.6 103.3,231.6 104.5,231.7 105.7,232.3 106.8,231.9 108.0,231.6 109.2,231.8 110.3,231.6 111.5,232.3 112.7,232.4 113.9,232.2 115.0,232.2 116.2,231.9 117.4,231.6 118.5,232.5 119.7,232.3 120.9,231.9 122.1,232.5 123.2,232.5 124.4,232.3 125.6,232.5 126.7,232.5 127.9,232.1 129.1,232.1 130.2,232.4 131.4,232.5 132.6,232.2 133.8,232.9 134.9,232.5 136.1,232.9 137.3,232.2 138.4,232.6 139.6,232.9 140.8,233.0 142.0,232.6 143.1,233.0 144.3,232.4 145.5,232.4 146.6,233.1 147.8,232.8 149.0,232.7 150.1,233.0 151.3,232.9 152.5,233.2 153.7,233.1 154.8,233.0 156.0,232.9 157.2,232.9 158.3,232.7 159.5,232.6 160.7,233.3 161.9,232.9 163.0,233.5 164.2,233.3 165.4,232.9 166.5,233.5 167.7,233.1 168.9,233.2 170.0,233.5 171.2,233.2 172.4,233.6 173.6,233.2 174.7,233.8 175.9,233.9 177.1,233.3 178.2,233.3 179.4,233.7 180.6,233.5 181.8,233.9 182.9,233.1 184.1,233.5 185.3,233.9 186.4,233.6 187.6,233.6 188.8,233.7 189.9,233.9 191.1,233.6 192.3,233.9 193.5,234.0 194.6,233.4 195.8,233.4 197.0,233.4 198.1,234.1 199.3,233.4 200.5,234.1 201.7,233.5 202.8,233.9 204.0,234.5 205.2,234.4 206.3,233.9 207.5,233.6 208.7,233.8 209.8,233.9 211.0,234.5 212.2,234.1 213.4,233.7 214.5,234.6 215.7,234.6 216.9,233.9 218.0,234.3 219.2,234.2 220.4,234.4 221.6,234.6 222.7,234.8 223.9,233.9 225.1,234.4 226.2,234.5 227.4,234.2 228.6,234.3 229.7,234.8 230.9,234.5 232.1,234.5 233.3,234.1 234.4,234.7 235.6,235.0 236.8,234.7 237.9,235.1 239.1,235.0 240.3,234.9 241.5,234.5 242.6,235.1 243.8,235.2 245.0,234.4 246.1,235.1 247.3,234.7 248.5,234.6 249.6,235.1 250.8,234.4 252.0,234.5 253.2,234.7 254.3,235.0 255.5,235.0 256.7,235.4 257.8,235.4 259.0,235.3 260.2,235.0 261.4,235.0 262.5,234.8 263.7,234.7 264.9,235.4 266.0,235.4 267.2,235.5 268.4,235.6 269.5,235.7 270.7,235.1 271.9,235.5 273.1,235.7 274.2,235.3 275.4,235.4 276.6,235.0 277.7,235.2 278.9,235.8 280.1,235.9 281.3,235.6 282.4,235.3 283.6,235.7 284.8,235.4 285.9,235.3 287.1,235.2 288.3,235.4 289.4,235.7 290.6,235.7 290.6,239.4 289.4,238.7 288.3,238.7 287.1,239.4 285.9,239.3 284.8,239.0 283.6,238.6 282.4,239.5 281.3,239.5 280.1,238.6 278.9,238.8 277.7,239.4 276.6,238.7 275.4,239.1 274.2,239.4 273.1,238.6 271.9,239.0 270.7,238.9 269.5,239.0 268.4,239.5 267.2,238.6 266.0,238.6 264.9,238.9 263.7,238.9 262.5,239.0 261.4,239.1 260.2,238.5 259.0,239.4 257.8,238.6 256.7,238.7 255.5,238.6 254.3,238.7 253.2,238.6 252.0,239.2 250.8,239.1 249.6,238.5 248.5,239.3 247.3,239.0 246.1,239.3 245.0,238.4 243.8,238.5 242.6,238.5 241.5,238.5 240.3,239.0 239.1,238.8 237.9,238.9 236.8,238.5 235.6,238.3 234.4,238.3 233.3,238.7 232.1,239.1 230.9,239.2 229.7,238.8 228.6,238.9 227.4,239.0 226.2,238.5 225.1,238.6 223.9,238.5 222.7,238.7 221.6,238.4 220.4,238.5 219.2,238.6 218.0,238.5 216.9,238.2 215.7,238.4 214.5,238.9 213.4,238.4 212.2,238.5 211.0,238.7 209.8,238.3 208.7,238.3 207.5,239.1 206.3,238.6 205.2,238.2 204.0,238.9 202.8,238.6 201.7,238.7 200.5,238.5 199.3,238.7 198.1,238.6 197.0,238.1 195.8,238.8 194.6,238.2 193.5,238.7 192.3,238.5 191.1,238.0 189.9,238.7 188.8,238.8 187.6,238.4 186.4,238.8 185.3,238.3 184.1,238.4 182.9,238.5 181.8,238.6 180.6,238.4 179.4,238.2 178.2,237.9 177.1,238.5 175.9,238.5 174.7,238.0 173.6,238.4 172.4,238.1 171.2,238.4 170.0,238.1 168.9,238.1 167.7,237.8 166.5,238.4 165.4,238.2 164.2,238.6 163.0,237.8 161.9,237.9 160.7,238.0 159.5,237.9 158.3,238.2 157.2,237.7 156.0,238.0 154.8,237.9 153.7,238.0 152.5,237.8 151.3,238.4 150.1,238.0 149.0,238.6 147.8,237.7 146.6,238.1 145.5,237.9 144.3,237.8 143.1,237.7 142.0,238.3 140.8,237.5 139.6,238.4 138.4,238.1 137.3,238.3 136.1,237.7 134.9,238.0 133.8,238.0 132.6,237.6 131.4,237.9 130.2,238.1 129.1,238.3 127.9,238.0 126.7,237.9 125.6,237.7 124.4,237.9 123.2,237.7 122.1,237.7 120.9,237.9 119.7,238.3 118.5,237.8 117.4,238.0 116.2,238.2 115.0,237.8 113.9,237.5 112.7,237.2 111.5,238.0 110.3,237.3 109.2,237.4 108.0,237.7 106.8,238.0 105.7,237.1 104.5,237.2 103.3,237.4 102.2,238.0 101.0,237.3 99.8,237.7 98.6,238.0 97.5,237.5 96.3,237.6 95.1,236.9 94.0,237.5 92.8,237.4 91.6,236.9 90.4,237.0 89.3,236.2 88.1,236.4 86.9,235.8 85.8,236.0 84.6,235.6 83.4,236.2 82.3,236.2 81.1,235.9 79.9,236.0 78.7,236.4 77.6,236.5 76.4,235.6 75.2,235.8 74.1,235.6 72.9,236.3 71.7,235.6 70.5,236.4 69.4,236.5 68.2,235.7 67.0,235.7 65.9,236.3 64.7,236.5 63.5,236.6 62.4,235.6 61.2,236.6 60.0,235.8 58.8,236.4 57.7,236.5 56.5,236.5Z" fill="url(#gmed)" stroke="url(#gmed)" stroke-width="0.6" stroke-linejoin="round"/>
<path d="M83.03,232.46 83.23,232.43 83.42,232.40 83.62,232.37 83.81,232.33 84.01,232.29 84.20,232.25 84.40,232.20 84.59,232.14 84.79,232.08 84.98,232.02 85.18,231.94 85.37,231.85 85.57,231.76 85.77,231.65 85.96,231.52 86.16,231.38 86.35,231.21 86.55,231.02 86.74,230.79 86.94,230.52 87.13,230.21 87.33,229.83 87.36,229.75 87.40,229.66 87.44,229.57 87.48,229.47 87.52,229.38 87.56,229.27 87.60,229.17 87.64,229.06 87.68,228.94 87.72,228.82 87.76,228.70 87.79,228.57 87.83,228.43 87.87,228.29 87.91,228.14 87.95,227.99 87.99,227.82 88.03,227.66 88.07,227.48 88.11,227.29 88.15,227.10 88.18,226.89 88.22,226.68 88.26,226.46 88.30,226.22 88.34,225.97 88.38,225.71 88.42,225.43 88.46,225.14 88.50,224.82 88.54,224.49 88.57,224.14 88.61,223.77 88.65,223.37 88.69,222.94 88.73,222.48 88.77,221.98 88.81,221.43 88.85,220.84 88.89,220.19 88.93,219.48 88.96,218.68 89.00,217.80 89.04,216.79 89.08,215.65 89.12,214.35 89.16,212.84 89.20,211.07 89.24,208.98 89.28,206.50 89.32,203.53 89.35,199.95 89.39,195.65 89.43,190.49 89.47,184.45 89.51,177.63 89.55,170.46 89.59,163.81 89.63,158.96 89.67,158.52 89.71,160.31 89.75,165.15 89.78,171.78 89.82,178.93 89.86,185.72 89.90,191.72 89.94,196.83 89.98,201.09 90.02,204.61 90.06,207.52 90.10,209.94 90.14,211.96 90.17,213.65 90.21,215.10 90.25,216.33 90.29,217.40 90.33,218.34 90.37,219.16 90.41,219.89 90.45,220.54 90.49,221.12 90.53,221.66 90.56,222.14 90.60,222.59 90.64,223.00 90.68,223.39 90.72,223.74 90.76,224.08 90.80,224.39 90.84,224.69 90.88,224.97 90.92,225.24 90.95,225.50 90.99,225.74 91.03,225.97 91.07,226.20 91.11,226.41 91.15,226.62 91.19,226.82 91.23,227.01 91.27,227.19 91.31,227.37 91.34,227.54 91.38,227.71 91.42,227.87 91.46,228.02 91.50,228.17 91.54,228.32 91.58,228.46 91.62,228.60 91.66,228.73 91.70,228.86 91.74,228.98 91.77,229.10 91.81,229.22 91.85,229.34 91.89,229.45 91.93,229.56 91.97,229.66 92.01,229.76 92.20,230.23 92.40,230.64 92.59,231.00 92.79,231.32 92.98,231.60 93.18,231.84 93.37,232.06 93.57,232.25 93.76,232.43 93.96,232.58 94.15,232.72 94.35,232.85 94.54,232.96 94.74,233.07 94.93,233.16 95.13,233.25 95.32,233.33 95.52,233.40 95.72,233.47 95.91,233.53 96.11,233.59 96.30,233.64 96.50,233.69 96.69,233.74 96.89,233.78 97.08,233.82 97.28,233.86 97.47,233.89 97.67,233.93 97.86,233.96 98.06,233.99 98.25,234.02 98.45,234.04 98.64,234.07 98.84,234.09 99.03,234.11 99.23,234.14 99.42,234.57 83.03,232.94Z" fill="#2f8a28"/>
<path d="M56.5,232.5 56.7,233.1 57.0,235.1 57.2,232.9 57.4,234.8 57.7,232.2 57.9,234.6 58.1,232.6 58.4,233.6 58.6,233.5 58.8,232.2 59.1,234.5 59.3,234.4 59.5,230.9 59.8,233.7 60.0,231.3 60.2,231.2 60.5,233.0 60.7,234.5 60.9,234.8 61.2,231.2 61.4,234.7 61.7,232.9 61.9,232.7 62.1,234.7 62.4,233.1 62.6,234.4 62.8,232.7 63.1,232.9 63.3,233.5 63.5,234.3 63.8,233.3 64.0,234.3 64.2,234.6 64.5,234.1 64.7,231.2 64.9,232.9 65.2,231.1 65.4,235.1 65.6,230.9 65.9,233.0 66.1,231.6 66.3,232.6 66.6,232.0 66.8,234.1 67.0,231.8 67.3,234.5 67.5,234.0 67.7,235.0 68.0,233.4 68.2,232.8 68.4,233.8 68.7,231.1 68.9,234.8 69.1,232.5 69.4,234.1 69.6,232.5 69.8,231.6 70.1,231.9 70.3,234.9 70.5,234.0 70.8,232.4 71.0,230.7 71.2,234.9 71.5,232.3 71.7,232.0 72.0,231.5 72.2,233.6 72.4,231.5 72.7,233.0 72.9,231.0 73.1,235.0 73.4,230.9 73.6,233.2 73.8,233.3 74.1,234.7 74.3,234.0 74.5,231.8 74.8,232.0 75.0,234.4 75.2,233.5 75.5,234.4 75.7,234.2 75.9,234.1 76.2,233.6 76.4,230.7 76.6,230.6 76.9,231.5 77.1,232.9 77.3,232.8 77.6,231.5 77.8,230.8 78.0,231.3 78.3,231.3 78.5,232.3 78.6,230.0 78.7,228.9 78.9,229.3 79.0,232.7 79.2,230.9 79.4,233.0 79.7,234.1 79.9,230.6 80.1,231.9 80.4,231.6 80.6,234.3 80.8,231.2 81.1,230.7 81.3,230.9 81.6,231.5 81.8,231.1 82.0,231.3 82.3,232.2 82.5,232.8 82.7,231.1 83.0,231.2 83.2,230.8 83.4,233.3 83.7,230.3 83.9,232.2 84.1,230.3 84.4,233.9 84.6,230.1 84.8,230.8 85.1,233.1 85.3,230.4 85.5,232.9 85.8,233.0 86.0,231.7 86.2,232.5 86.5,231.1 86.7,229.1 86.9,229.7 87.2,229.2 87.4,230.1 87.6,227.8 87.9,227.0 88.1,226.5 88.2,225.0 88.3,225.0 88.3,226.4 88.4,227.2 88.5,224.2 88.6,223.7 88.7,223.6 88.7,222.3 88.8,221.0 88.9,219.8 89.0,219.4 89.0,216.8 89.1,215.0 89.2,211.6 89.3,206.1 89.4,200.1 89.4,190.3 89.5,177.7 89.6,164.0 89.7,158.9 89.7,165.4 89.8,178.5 89.9,191.6 90.0,201.4 90.1,208.1 90.1,212.3 90.2,214.8 90.3,217.5 90.4,218.9 90.4,220.1 90.5,222.2 90.6,222.3 90.7,224.0 90.8,223.6 90.8,226.1 90.9,226.2 91.0,223.8 91.1,226.8 91.1,227.8 91.2,225.3 91.3,226.9 91.4,226.0 91.5,228.5 91.5,228.3 91.6,226.6 91.7,228.8 91.8,227.0 91.9,230.7 91.9,228.1 92.0,231.2 92.1,229.8 92.2,232.3 92.2,231.7 92.3,228.6 92.4,230.8 92.5,229.5 92.6,232.0 92.6,231.7 92.7,232.9 92.8,231.1 93.0,230.1 93.3,231.9 93.5,232.7 93.7,230.6 94.0,230.9 94.2,232.0 94.4,234.7 94.7,232.5 94.9,233.4 95.1,231.3 95.4,233.9 95.6,232.7 95.8,232.9 96.1,234.1 96.3,233.5 96.5,233.0 96.8,232.0 97.0,233.8 97.2,234.4 97.5,231.9 97.7,235.8 97.9,232.6 98.2,233.2 98.4,233.8 98.6,234.3 98.9,233.0 99.1,232.5 99.3,233.2 99.6,233.1 99.8,236.2 100.0,235.0 100.3,235.8 100.5,232.4 100.7,232.6 101.0,235.8 101.2,233.9 101.5,234.0 101.7,236.2 101.9,234.8 102.2,233.3 102.4,233.8 102.6,235.3 102.9,233.3 103.1,235.3 103.3,234.3 103.6,234.8 103.8,232.5 104.0,233.9 104.3,233.2 104.5,233.8 104.7,235.0 105.0,232.6 105.2,233.7 105.4,233.7 105.7,235.5 105.9,236.0 106.1,234.3 106.4,233.2 106.6,233.4 106.8,235.2 107.1,236.1 107.3,234.5 107.5,233.1 107.8,236.0 108.0,233.6 108.2,236.0 108.5,235.4 108.7,236.5 108.9,235.5 109.2,235.1 109.4,232.8 109.6,232.8 109.9,236.0 110.1,235.5 110.3,232.9 110.6,235.9 110.8,235.4 111.0,235.0 111.3,236.3 111.5,235.7 111.8,235.2 112.0,235.2 112.2,232.9 112.5,235.7 112.7,236.0 112.9,233.1 113.2,235.0 113.4,233.4 113.6,234.2 113.9,233.7 114.1,235.6 114.3,236.2 114.6,233.8 114.8,234.9 115.0,234.6 115.3,234.1 115.5,233.8 115.7,235.7 116.0,235.4 116.2,233.2 116.4,234.7 116.7,235.7 116.9,234.3 117.1,235.8 117.4,233.8 117.6,236.7 117.8,233.6 118.1,234.6 118.3,235.5 118.5,233.1 118.8,235.8 119.0,235.9 119.2,236.6 119.5,234.7 119.7,233.9 119.9,234.2 120.2,235.3 120.4,233.7 120.6,236.5 120.9,235.7 121.1,234.4 121.4,233.1 121.6,234.4 121.8,234.2 122.1,233.9 122.3,235.4 122.5,233.2 122.8,234.0 123.0,235.6 123.2,235.4 123.5,233.8 123.7,235.6 123.9,236.3 124.2,233.5 124.4,234.9 124.6,234.9 124.9,234.4 125.1,233.4 125.3,236.5 125.6,235.7 125.8,236.8 126.0,235.4 126.3,235.0 126.5,233.7 126.7,234.4 127.0,234.8 127.2,235.5 127.4,234.8 127.7,236.0 127.9,233.7 128.1,234.0 128.4,233.8 128.6,236.5 128.8,234.4 129.1,234.1 129.3,235.1 129.5,233.6 129.8,233.6 130.0,234.2 130.2,233.9 130.5,234.5 130.7,233.7 131.0,236.6 131.2,234.3 131.4,234.4 131.7,234.7 131.9,236.0 132.1,236.8 132.4,234.8 132.6,233.9 132.8,236.1 133.1,236.3 133.3,236.3 133.5,236.8 133.8,234.5 134.0,233.4 134.2,234.0 134.5,235.7 134.7,234.4 134.9,236.9 135.2,233.9 135.4,235.9 135.6,237.1 135.9,234.7 136.1,236.6 136.3,236.1 136.6,236.9 136.8,235.5 137.0,235.0 137.3,234.1 137.5,237.0 137.7,234.0 138.0,236.8 138.2,236.3 138.4,234.8 138.7,235.9 138.9,235.9 139.1,235.0 139.4,236.4 139.6,234.2 139.8,236.4 140.1,234.0 140.3,234.1 140.5,235.2 140.8,237.1 141.0,234.3 141.3,237.1 141.5,235.3 141.7,235.6 142.0,237.0 142.2,234.8 142.4,234.5 142.7,235.0 142.9,235.7 143.1,235.3 143.4,235.0 143.6,236.4 143.8,234.0 144.1,233.5 144.3,234.2 144.5,233.6 144.8,236.0 145.0,233.6 145.2,237.0 145.5,235.5 145.7,236.8 145.9,235.6 146.2,234.7 146.4,234.6 146.6,235.6 146.9,236.0 147.1,236.6 147.3,235.8 147.6,236.2 147.8,236.6 148.0,234.5 148.3,235.4 148.5,235.7 148.7,236.6 149.0,234.7 149.2,236.6 149.4,236.3 149.7,235.2 149.9,234.6 150.1,233.5 150.4,234.0 150.6,232.5 150.9,232.0 151.1,229.0 151.2,227.7 151.3,227.7 151.4,228.1 151.6,229.5 151.8,231.0 152.0,233.4 152.3,234.5 152.5,236.1 152.7,235.9 153.0,236.7 153.2,235.0 153.4,233.7 153.7,236.2 153.9,237.2 154.1,236.7 154.4,236.1 154.6,234.1 154.8,234.4 155.1,235.7 155.3,237.0 155.5,237.0 155.8,236.8 156.0,234.5 156.2,235.7 156.5,233.8 156.7,234.1 156.9,234.5 157.2,235.7 157.4,234.4 157.6,236.9 157.9,237.0 158.1,235.4 158.3,235.6 158.6,236.7 158.8,236.5 159.0,237.3 159.3,234.1 159.5,234.9 159.7,234.0 160.0,233.9 160.2,235.9 160.4,234.8 160.7,236.0 160.9,234.5 161.2,234.4 161.4,237.0 161.6,237.4 161.9,236.7 162.1,235.3 162.3,236.1 162.6,237.4 162.8,234.5 163.0,234.6 163.3,235.8 163.5,237.3 163.7,234.3 164.0,235.6 164.2,237.2 164.4,236.3 164.7,235.2 164.9,234.3 165.1,235.8 165.4,235.2 165.6,236.8 165.8,236.6 166.1,234.3 166.3,236.1 166.5,237.1 166.8,235.4 167.0,237.1 167.2,236.8 167.5,235.9 167.7,235.4 167.9,235.3 168.2,235.0 168.4,236.0 168.6,237.3 168.9,235.0 169.1,237.3 169.3,235.9 169.6,236.1 169.8,235.2 170.0,235.0 170.3,236.7 170.5,235.3 170.8,235.1 171.0,235.9 171.2,237.0 171.5,234.4 171.7,235.4 171.9,237.3 172.2,236.7 172.4,234.1 172.6,236.8 172.9,236.2 173.1,234.8 173.3,234.7 173.6,235.4 173.8,235.0 174.0,237.4 174.3,237.2 174.5,234.2 174.7,234.8 175.0,237.4 175.2,237.4 175.4,236.7 175.7,234.4 175.9,236.8 176.1,235.3 176.4,234.4 176.6,235.4 176.8,234.4 177.1,236.7 177.3,237.1 177.5,237.5 177.8,235.0 178.0,237.2 178.2,234.3 178.5,235.2 178.7,237.0 178.9,234.9 179.2,237.1 179.4,235.9 179.6,237.3 179.9,234.9 180.1,234.6 180.3,234.5 180.6,237.6 180.8,234.7 181.1,235.7 181.3,234.8 181.5,235.9 181.8,235.5 182.0,235.6 182.2,234.9 182.5,237.4 182.7,237.5 182.9,235.8 183.2,236.7 183.4,236.3 183.6,237.6 183.9,235.1 184.1,237.6 184.3,234.9 184.6,234.9 184.8,236.1 185.0,237.3 185.3,235.5 185.5,237.0 185.7,236.2 186.0,237.3 186.2,234.4 186.4,235.9 186.7,236.5 186.9,237.4 187.1,235.3 187.4,234.9 187.6,234.9 187.8,237.4 188.1,236.5 188.3,236.7 188.5,235.2 188.8,237.2 189.0,235.7 189.2,234.5 189.5,235.2 189.7,237.7 189.9,237.5 190.2,237.3 190.4,235.4 190.7,235.7 190.9,236.0 191.1,236.2 191.4,236.4 191.6,235.7 191.8,235.6 192.1,234.7 192.3,235.3 192.5,235.1 192.8,234.7 193.0,235.0 193.2,235.4 193.5,237.7 193.7,235.5 193.9,235.0 194.2,236.3 194.4,234.9 194.6,237.2 194.9,234.7 195.1,236.3 195.3,235.5 195.6,236.9 195.8,236.8 196.0,236.6 196.3,236.7 196.5,237.5 196.7,236.3 197.0,234.6 197.2,235.7 197.4,234.8 197.7,235.3 197.9,235.1 198.1,234.6 198.4,235.4 198.6,236.9 198.8,237.0 199.1,236.5 199.3,237.7 199.5,237.1 199.8,235.0 200.0,234.8 200.2,236.8 200.5,235.3 200.7,235.3 201.0,235.0 201.2,235.3 201.4,236.1 201.7,237.5 201.9,235.2 202.1,236.8 202.4,235.8 202.6,236.7 202.8,236.1 203.1,234.8 203.3,237.3 203.5,236.2 203.8,235.8 204.0,236.1 204.2,234.9 204.5,236.6 204.7,235.0 204.9,235.7 205.2,234.8 205.4,237.6 205.6,237.2 205.9,236.9 206.1,234.9 206.3,237.7 206.6,236.7 206.8,234.7 207.0,232.9 207.3,232.8 207.5,225.4 207.7,217.2 207.8,216.2 207.9,214.9 208.0,215.5 208.0,216.5 208.2,222.7 208.4,231.6 208.7,233.2 208.9,236.1 209.1,236.6 209.4,234.7 209.6,235.8 209.8,236.0 210.1,235.8 210.3,236.0 210.6,235.7 210.8,237.0 211.0,237.7 211.3,237.7 211.5,237.9 211.7,236.8 212.0,237.5 212.2,237.6 212.4,236.4 212.7,234.9 212.9,235.8 213.1,237.1 213.4,235.6 213.6,237.4 213.8,237.6 214.1,237.0 214.3,236.7 214.5,235.8 214.8,236.6 215.0,235.7 215.2,237.7 215.5,235.1 215.7,236.9 215.9,235.4 216.2,237.9 216.4,235.4 216.6,237.3 216.9,235.4 217.1,235.5 217.3,235.9 217.6,237.1 217.8,237.9 218.0,237.4 218.3,235.2 218.5,237.5 218.7,236.0 219.0,236.2 219.2,236.0 219.4,237.4 219.7,237.5 219.9,237.7 220.1,235.0 220.4,236.8 220.6,236.0 220.9,236.3 221.1,237.3 221.3,237.8 221.6,238.0 221.8,235.4 222.0,237.6 222.3,235.1 222.5,236.9 222.7,235.8 223.0,237.6 223.2,235.7 223.4,237.3 223.7,236.9 223.9,236.5 224.1,237.7 224.4,237.3 224.6,235.7 224.8,237.2 225.1,236.9 225.3,235.8 225.5,237.4 225.8,237.5 226.0,237.4 226.2,236.9 226.5,237.0 226.7,236.1 226.9,236.7 227.2,235.5 227.4,237.9 227.6,236.1 227.9,235.6 228.1,237.4 228.3,237.9 228.6,236.7 228.8,237.4 229.0,236.0 229.3,234.5 229.5,234.2 229.7,228.3 230.0,221.8 230.0,221.2 230.1,220.2 230.2,220.5 230.3,221.3 230.5,226.2 230.7,232.2 230.9,234.8 231.2,234.5 231.4,236.1 231.6,237.7 231.9,237.4 232.1,235.9 232.3,236.5 232.6,235.6 232.8,235.3 233.0,235.6 233.3,237.8 233.5,235.4 233.7,236.6 234.0,237.4 234.2,237.6 234.4,235.6 234.7,237.5 234.9,237.9 235.1,237.4 235.4,235.5 235.6,236.8 235.8,236.0 236.1,237.9 236.3,236.8 236.5,237.2 236.8,237.5 237.0,236.2 237.2,237.1 237.5,237.8 237.7,235.3 237.9,236.8 238.2,237.6 238.4,238.1 238.6,236.3 238.9,236.7 239.1,238.1 239.3,236.8 239.6,236.1 239.8,236.6 240.1,237.5 240.3,236.7 240.5,236.5 240.8,236.3 241.0,237.8 241.2,235.9 241.5,235.5 241.7,236.1 241.9,235.8 242.2,237.1 242.4,235.6 242.6,237.7 242.9,237.5 243.1,236.5 243.3,235.7 243.6,238.0 243.8,237.6 244.0,238.1 244.3,237.0 244.5,237.8 244.7,237.7 245.0,236.1 245.2,236.6 245.4,235.6 245.7,237.1 245.9,236.3 246.1,238.2 246.4,235.6 246.6,237.6 246.8,236.9 247.1,236.8 247.3,235.6 247.5,236.9 247.8,235.5 248.0,236.5 248.2,237.6 248.5,235.9 248.7,237.7 248.9,235.5 249.2,237.0 249.4,237.6 249.6,235.6 249.9,237.4 250.1,237.1 250.4,237.3 250.6,236.4 250.8,238.2 251.1,237.2 251.3,237.8 251.5,236.0 251.8,238.2 252.0,236.6 252.2,237.6 252.5,237.0 252.7,236.7 252.9,236.3 253.2,237.9 253.4,237.6 253.6,237.9 253.9,235.7 254.1,237.9 254.3,237.9 254.6,236.9 254.8,236.7 255.0,235.9 255.3,238.1 255.5,237.7 255.7,237.8 256.0,236.7 256.2,237.1 256.4,237.2 256.7,235.9 256.9,236.5 257.1,236.0 257.4,235.8 257.6,237.6 257.8,235.8 258.1,237.2 258.3,238.2 258.5,235.9 258.8,238.0 259.0,238.3 259.2,237.5 259.5,237.5 259.7,235.8 260.0,236.0 260.2,237.2 260.4,236.9 260.7,236.1 260.9,236.2 261.1,236.6 261.4,237.0 261.6,238.0 261.8,237.7 262.1,236.6 262.3,236.8 262.5,236.2 262.8,236.0 263.0,235.8 263.2,237.8 263.5,238.1 263.7,236.0 263.9,236.9 264.2,237.9 264.4,236.6 264.6,237.7 264.9,237.7 265.1,237.4 265.3,237.0 265.6,236.6 265.8,238.2 266.0,236.5 266.3,236.8 266.5,237.2 266.7,236.6 267.0,236.3 267.2,238.3 267.4,237.2 267.7,236.6 267.9,236.6 268.1,236.7 268.4,237.9 268.6,235.9 268.8,236.4 269.1,237.8 269.3,237.3 269.5,236.0 269.8,237.9 270.0,237.4 270.3,236.0 270.5,236.1 270.7,237.8 271.0,236.5 271.2,237.5 271.4,236.7 271.7,236.5 271.9,238.1 272.1,237.8 272.4,237.9 272.6,237.7 272.8,238.3 273.1,238.1 273.3,237.4 273.5,237.4 273.8,238.2 274.0,237.0 274.2,236.1 274.5,237.0 274.7,237.5 274.9,236.7 275.2,237.3 275.4,238.0 275.6,237.2 275.9,238.4 276.1,236.8 276.3,238.0 276.6,237.5 276.8,236.1 277.0,236.6 277.3,236.4 277.5,236.9 277.7,236.9 278.0,236.7 278.2,236.1 278.4,238.0 278.7,236.6 278.9,237.7 279.1,237.8 279.4,236.4 279.6,237.0 279.9,236.3 280.1,236.1 280.3,236.4 280.6,236.6 280.8,234.1 281.0,230.3 281.1,228.8 281.3,228.5 281.4,229.2 281.5,230.7 281.7,234.6 282.0,235.4 282.2,237.9 282.4,237.6 282.7,237.7 282.9,236.7 283.1,236.1 283.4,238.4 283.6,238.2 283.8,236.3 284.1,236.2 284.3,238.1 284.5,237.7 284.8,237.3 285.0,237.7 285.2,237.5 285.5,237.4 285.7,237.9 285.9,238.4 286.2,238.3 286.4,238.1 286.6,238.3 286.9,237.0 287.1,236.9 287.3,237.9 287.6,236.7 287.8,236.8 288.0,237.7 288.3,237.4 288.5,238.1 288.7,236.4 289.0,237.2 289.2,238.4 289.4,238.2 289.7,236.9 289.9,237.6 290.2,236.9 290.4,238.0 290.6,236.7" fill="none" stroke="url(#hmed)" stroke-width="1.1" stroke-linejoin="round"/>
<defs><linearGradient id="ghigh" x1="0" x2="1" y1="0" y2="0"><stop offset="0" stop-color="#cd3529"/><stop offset="0.2" stop-color="#cd3529"/><stop offset="0.45" stop-color="#a64b2b"/><stop offset="1" stop-color="#a64b2b"/></linearGradient>
<linearGradient id="hhigh" x1="0" x2="1" y1="0" y2="0"><stop offset="0" stop-color="#b82a22"/><stop offset="0.2" stop-color="#b82a22"/><stop offset="0.45" stop-color="#8f4026"/><stop offset="1" stop-color="#8f4026"/></linearGradient></defs>
<path d="M56.5,200.7 57.7,200.5 58.8,200.6 60.0,200.7 61.2,200.0 62.4,200.5 63.5,200.1 64.7,200.0 65.9,200.2 67.0,200.3 68.2,200.7 69.4,200.7 70.5,200.2 71.7,200.6 72.9,200.9 74.1,200.3 75.2,200.2 76.4,200.2 77.6,200.8 78.7,201.0 79.9,200.3 81.1,200.7 82.3,200.6 83.4,200.1 84.6,200.2 85.8,200.9 86.9,200.2 88.1,200.6 89.3,200.4 90.4,202.9 91.6,202.6 92.8,202.9 94.0,202.8 95.1,202.8 96.3,203.1 97.5,203.4 98.6,203.1 99.8,203.6 101.0,202.8 102.2,203.4 103.3,202.8 104.5,203.7 105.7,203.3 106.8,203.2 108.0,203.7 109.2,203.4 110.3,203.4 111.5,204.0 112.7,203.3 113.9,203.2 115.0,203.2 116.2,203.7 117.4,203.3 118.5,203.9 119.7,203.5 120.9,203.5 122.1,203.4 123.2,204.0 124.4,204.2 125.6,204.3 126.7,203.6 127.9,204.1 129.1,203.5 130.2,204.4 131.4,204.3 132.6,203.7 133.8,204.0 134.9,203.7 136.1,203.9 137.3,204.3 138.4,203.8 139.6,204.5 140.8,204.2 142.0,204.5 143.1,204.6 144.3,204.1 145.5,204.6 146.6,204.2 147.8,204.2 149.0,204.0 150.1,204.8 151.3,204.5 152.5,204.7 153.7,204.9 154.8,205.0 156.0,204.7 157.2,204.3 158.3,204.4 159.5,204.2 160.7,204.4 161.9,204.5 163.0,205.0 164.2,204.3 165.4,204.9 166.5,204.9 167.7,205.1 168.9,204.7 170.0,205.1 171.2,205.2 172.4,204.7 173.6,204.4 174.7,204.4 175.9,204.6 177.1,204.5 178.2,204.6 179.4,204.9 180.6,205.4 181.8,205.1 182.9,205.0 184.1,205.3 185.3,205.4 186.4,204.7 187.6,205.4 188.8,205.1 189.9,205.5 191.1,204.9 192.3,205.1 193.5,205.4 194.6,205.7 195.8,205.4 197.0,205.5 198.1,204.9 199.3,205.7 200.5,205.2 201.7,205.6 202.8,205.1 204.0,205.9 205.2,205.3 206.3,205.9 207.5,205.3 208.7,205.8 209.8,205.6 211.0,205.7 212.2,206.0 213.4,205.7 214.5,205.3 215.7,205.7 216.9,206.0 218.0,206.1 219.2,205.2 220.4,206.1 221.6,206.2 222.7,206.2 223.9,205.5 225.1,206.1 226.2,206.0 227.4,205.7 228.6,205.9 229.7,205.5 230.9,205.8 232.1,206.2 233.3,205.7 234.4,205.7 235.6,206.4 236.8,206.1 237.9,206.3 239.1,206.3 240.3,206.5 241.5,205.7 242.6,206.1 243.8,205.8 245.0,206.4 246.1,206.2 247.3,206.7 248.5,206.5 249.6,206.0 250.8,206.2 252.0,206.1 253.2,206.1 254.3,206.1 255.5,206.4 256.7,206.4 257.8,206.9 259.0,206.9 260.2,206.2 261.4,206.1 262.5,206.1 263.7,207.0 264.9,206.4 266.0,206.4 267.2,206.5 268.4,207.0 269.5,206.2 270.7,206.9 271.9,206.8 273.1,206.6 274.2,206.5 275.4,206.9 276.6,207.2 277.7,206.7 278.9,207.1 280.1,207.0 281.3,207.3 282.4,206.8 283.6,206.5 284.8,207.2 285.9,206.8 287.1,207.0 288.3,207.4 289.4,207.0 290.6,207.2 290.6,210.5 289.4,210.9 288.3,210.4 287.1,210.4 285.9,210.5 284.8,210.0 283.6,210.9 282.4,210.2 281.3,210.5 280.1,210.3 278.9,210.6 277.7,210.8 276.6,210.1 275.4,210.7 274.2,210.5 273.1,210.4 271.9,210.8 270.7,210.3 269.5,210.8 268.4,210.5 267.2,210.0 266.0,210.6 264.9,210.3 263.7,210.3 262.5,210.6 261.4,210.0 260.2,210.4 259.0,210.3 257.8,210.3 256.7,210.3 255.5,210.0 254.3,210.1 253.2,209.9 252.0,210.0 250.8,210.4 249.6,210.0 248.5,210.0 247.3,210.1 246.1,210.4 245.0,209.9 243.8,210.6 242.6,209.8 241.5,210.7 240.3,210.7 239.1,210.0 237.9,210.4 236.8,210.4 235.6,209.9 234.4,210.3 233.3,210.2 232.1,209.9 230.9,210.4 229.7,209.7 228.6,210.1 227.4,210.1 226.2,209.9 225.1,210.1 223.9,210.3 222.7,210.2 221.6,210.1 220.4,210.5 219.2,210.1 218.0,209.8 216.9,210.0 215.7,210.3 214.5,210.5 213.4,210.4 212.2,210.6 211.0,209.7 209.8,210.0 208.7,209.7 207.5,209.9 206.3,209.7 205.2,210.2 204.0,209.9 202.8,210.4 201.7,210.3 200.5,209.7 199.3,210.3 198.1,210.0 197.0,209.9 195.8,209.9 194.6,209.5 193.5,209.6 192.3,210.4 191.1,209.8 189.9,210.1 188.8,209.8 187.6,209.9 186.4,210.0 185.3,210.0 184.1,209.7 182.9,210.3 181.8,210.2 180.6,209.7 179.4,210.1 178.2,209.8 177.1,210.1 175.9,209.4 174.7,210.1 173.6,209.6 172.4,209.5 171.2,209.5 170.0,210.0 168.9,209.6 167.7,209.8 166.5,209.3 165.4,209.9 164.2,210.2 163.0,210.1 161.9,210.0 160.7,210.0 159.5,209.7 158.3,210.0 157.2,209.8 156.0,210.0 154.8,209.9 153.7,209.9 152.5,209.4 151.3,210.0 150.1,209.5 149.0,209.3 147.8,209.5 146.6,209.5 145.5,209.3 144.3,209.9 143.1,210.0 142.0,209.6 140.8,209.0 139.6,209.9 138.4,209.4 137.3,209.3 136.1,209.2 134.9,209.8 133.8,210.0 132.6,209.2 131.4,209.3 130.2,209.0 129.1,209.1 127.9,209.6 126.7,209.4 125.6,209.5 124.4,209.3 123.2,209.7 122.1,209.1 120.9,209.8 119.7,208.9 118.5,209.2 117.4,209.0 116.2,209.6 115.0,208.9 113.9,208.9 112.7,209.5 111.5,208.8 110.3,208.8 109.2,208.8 108.0,209.5 106.8,208.7 105.7,209.3 104.5,208.8 103.3,209.6 102.2,208.9 101.0,209.0 99.8,209.2 98.6,209.5 97.5,208.9 96.3,209.2 95.1,208.8 94.0,209.1 92.8,208.9 91.6,208.5 90.4,209.2 89.3,206.8 88.1,206.6 86.9,206.2 85.8,206.5 84.6,207.0 83.4,206.6 82.3,206.2 81.1,206.2 79.9,206.4 78.7,206.9 77.6,206.8 76.4,206.9 75.2,206.3 74.1,206.8 72.9,206.4 71.7,206.8 70.5,206.8 69.4,206.4 68.2,206.2 67.0,206.7 65.9,206.5 64.7,206.8 63.5,206.8 62.4,206.4 61.2,206.9 60.0,206.5 58.8,207.0 57.7,206.4 56.5,206.4Z" fill="url(#ghigh)" stroke="url(#ghigh)" stroke-width="0.6" stroke-linejoin="round"/>
<path d="M83.03,203.08 83.23,203.05 83.42,203.02 83.62,202.98 83.81,202.95 84.01,202.90 84.20,202.86 84.40,202.81 84.59,202.75 84.79,202.69 84.98,202.62 85.18,202.55 85.37,202.46 85.57,202.36 85.77,202.25 85.96,202.12 86.16,201.98 86.35,201.81 86.55,201.61 86.74,201.38 86.94,201.11 87.13,200.79 87.33,200.41 87.36,200.32 87.40,200.23 87.44,200.14 87.48,200.04 87.52,199.94 87.56,199.84 87.60,199.73 87.64,199.62 87.68,199.50 87.72,199.38 87.76,199.25 87.79,199.12 87.83,198.98 87.87,198.84 87.91,198.68 87.95,198.53 87.99,198.36 88.03,198.19 88.07,198.01 88.11,197.82 88.15,197.62 88.18,197.41 88.22,197.19 88.26,196.96 88.30,196.72 88.34,196.46 88.38,196.19 88.42,195.90 88.46,195.60 88.50,195.28 88.54,194.94 88.57,194.57 88.61,194.19 88.65,193.77 88.69,193.32 88.73,192.84 88.77,192.32 88.81,191.76 88.85,191.14 88.89,190.46 88.93,189.71 88.96,188.88 89.00,187.94 89.04,186.89 89.08,185.69 89.12,184.31 89.16,182.71 89.20,180.84 89.24,178.63 89.28,176.00 89.32,172.84 89.35,169.04 89.39,164.46 89.43,158.99 89.47,152.56 89.51,145.30 89.55,137.67 89.59,130.60 89.63,125.44 89.67,125.85 89.71,127.76 89.75,132.91 89.78,139.96 89.82,147.57 89.86,154.79 89.90,161.18 89.94,166.61 89.98,171.14 90.02,174.88 90.06,177.98 90.10,180.54 90.14,182.69 90.17,184.49 90.21,186.02 90.25,187.33 90.29,188.46 90.33,189.45 90.37,190.32 90.41,191.08 90.45,191.77 90.49,192.39 90.53,192.94 90.56,193.45 90.60,193.92 90.64,194.35 90.68,194.75 90.72,195.13 90.76,195.47 90.80,195.80 90.84,196.11 90.88,196.40 90.92,196.68 90.95,196.94 90.99,197.19 91.03,197.43 91.07,197.66 91.11,197.88 91.15,198.10 91.19,198.30 91.23,198.49 91.27,198.68 91.31,198.86 91.34,199.04 91.38,199.21 91.42,199.37 91.46,199.53 91.50,199.68 91.54,199.83 91.58,199.98 91.62,200.12 91.66,200.25 91.70,200.38 91.74,200.51 91.77,200.63 91.81,200.75 91.85,200.87 91.89,200.98 91.93,201.09 91.97,201.20 92.01,201.30 92.20,201.78 92.40,202.19 92.59,202.55 92.79,202.87 92.98,203.15 93.18,203.40 93.37,203.62 93.57,203.81 93.76,203.99 93.96,204.15 94.15,204.29 94.35,204.41 94.54,204.53 94.74,204.63 94.93,204.73 95.13,204.82 95.32,204.90 95.52,204.97 95.72,205.04 95.91,205.10 96.11,205.16 96.30,205.21 96.50,205.26 96.69,205.30 96.89,205.35 97.08,205.39 97.28,205.42 97.47,205.46 97.67,205.49 97.86,205.52 98.06,205.55 98.25,205.58 98.45,205.61 98.64,205.63 98.84,205.66 99.03,205.68 99.23,205.70 99.42,206.13 83.03,203.56Z" fill="#b82a22"/>
<path d="M56.5,204.3 56.7,204.1 57.0,203.0 57.2,202.2 57.4,204.6 57.7,204.1 57.9,204.1 58.1,204.2 58.4,201.6 58.6,203.4 58.8,204.6 59.1,204.3 59.3,202.1 59.5,205.1 59.8,202.7 60.0,205.7 60.2,204.9 60.5,205.6 60.7,202.1 60.9,205.2 61.2,204.8 61.4,205.6 61.7,204.6 61.9,202.5 62.1,202.5 62.4,201.6 62.6,201.5 62.8,203.3 63.1,201.6 63.3,205.4 63.5,201.6 63.8,203.8 64.0,204.9 64.2,202.4 64.5,201.9 64.7,204.0 64.9,205.4 65.2,201.8 65.4,202.4 65.6,203.1 65.9,201.4 66.1,205.6 66.3,205.5 66.6,205.2 66.8,205.7 67.0,202.6 67.3,202.9 67.5,205.3 67.7,205.0 68.0,205.0 68.2,203.0 68.4,202.7 68.7,201.4 68.9,204.1 69.1,201.3 69.4,203.8 69.6,204.0 69.8,204.6 70.1,204.7 70.3,201.4 70.5,201.3 70.8,202.6 71.0,205.0 71.2,204.9 71.5,205.1 71.7,204.2 72.0,202.4 72.2,205.5 72.4,203.3 72.7,202.7 72.9,205.6 73.1,203.7 73.4,202.2 73.6,203.1 73.8,203.7 74.1,201.8 74.3,203.0 74.5,204.2 74.8,203.9 75.0,201.5 75.2,201.9 75.5,201.6 75.7,203.2 75.9,205.0 76.2,204.9 76.4,204.0 76.6,202.6 76.9,205.6 77.1,202.1 77.3,202.1 77.6,203.3 77.8,205.4 78.0,201.6 78.3,202.6 78.5,200.4 78.6,200.3 78.7,199.5 78.9,201.1 79.0,199.1 79.2,200.2 79.4,201.0 79.7,202.6 79.9,204.0 80.1,203.8 80.4,204.3 80.6,201.5 80.8,202.0 81.1,202.0 81.3,201.8 81.6,201.1 81.8,202.4 82.0,204.0 82.3,202.0 82.5,204.2 82.7,202.6 83.0,204.6 83.2,201.5 83.4,203.1 83.7,204.0 83.9,201.1 84.1,204.7 84.4,200.9 84.6,201.6 84.8,204.2 85.1,201.5 85.3,202.2 85.5,200.6 85.8,201.9 86.0,202.4 86.2,200.0 86.5,203.5 86.7,200.2 86.9,202.8 87.2,201.7 87.4,201.9 87.6,198.0 87.9,199.1 88.1,196.8 88.2,198.5 88.3,196.0 88.3,195.8 88.4,197.6 88.5,195.3 88.6,194.3 88.7,194.2 88.7,192.6 88.8,192.1 88.9,190.6 89.0,188.3 89.0,186.3 89.1,183.6 89.2,180.9 89.3,175.9 89.4,168.6 89.4,158.6 89.5,145.4 89.6,130.1 89.7,126.0 89.7,132.3 89.8,147.6 89.9,161.7 90.0,170.8 90.1,178.5 90.1,182.4 90.2,186.6 90.3,187.8 90.4,190.3 90.4,191.4 90.5,193.5 90.6,193.7 90.7,194.9 90.8,195.8 90.8,194.8 90.9,198.7 91.0,197.3 91.1,199.4 91.1,196.6 91.2,196.8 91.3,200.9 91.4,199.4 91.5,199.7 91.5,198.9 91.6,199.1 91.7,201.1 91.8,198.8 91.9,202.2 91.9,202.6 92.0,200.0 92.1,203.1 92.2,203.0 92.2,201.9 92.3,202.7 92.4,203.6 92.5,200.5 92.6,202.6 92.6,201.4 92.7,203.8 92.8,201.1 93.0,204.4 93.3,201.8 93.5,203.3 93.7,201.9 94.0,203.0 94.2,203.8 94.4,204.3 94.7,203.1 94.9,205.0 95.1,206.5 95.4,203.2 95.6,203.7 95.8,204.3 96.1,204.1 96.3,206.3 96.5,205.4 96.8,204.0 97.0,203.4 97.2,203.6 97.5,206.9 97.7,204.7 97.9,205.3 98.2,206.0 98.4,207.0 98.6,207.2 98.9,205.8 99.1,205.7 99.3,206.7 99.6,206.3 99.8,205.5 100.0,204.7 100.3,205.4 100.5,207.2 100.7,204.2 101.0,206.4 101.2,203.9 101.5,203.9 101.7,207.4 101.9,205.6 102.2,204.0 102.4,206.4 102.6,205.8 102.9,206.8 103.1,208.0 103.3,207.2 103.6,207.6 103.8,206.9 104.0,205.5 104.3,205.8 104.5,204.2 104.7,205.3 105.0,206.6 105.2,204.2 105.4,205.5 105.7,205.9 105.9,204.6 106.1,205.4 106.4,206.7 106.6,205.7 106.8,207.0 107.1,204.2 107.3,207.2 107.5,204.2 107.8,208.0 108.0,208.2 108.2,206.0 108.5,207.4 108.7,206.2 108.9,207.8 109.2,204.8 109.4,205.5 109.6,205.5 109.9,204.5 110.1,204.2 110.3,205.5 110.6,205.4 110.8,208.3 111.0,208.1 111.3,206.6 111.5,204.4 111.8,207.1 112.0,206.0 112.2,208.3 112.5,206.7 112.7,204.7 112.9,206.0 113.2,205.0 113.4,208.3 113.6,207.5 113.9,207.6 114.1,205.0 114.3,208.0 114.6,204.6 114.8,207.3 115.0,204.8 115.3,206.3 115.5,207.1 115.7,204.5 116.0,206.8 116.2,205.6 116.4,208.1 116.7,205.1 116.9,204.5 117.1,208.0 117.4,205.4 117.6,207.3 117.8,207.8 118.1,207.0 118.3,205.8 118.5,204.6 118.8,204.5 119.0,204.5 119.2,206.0 119.5,205.8 119.7,207.8 119.9,205.6 120.2,206.3 120.4,207.0 120.6,204.9 120.9,207.5 121.1,207.9 121.4,207.9 121.6,207.9 121.8,206.2 122.1,205.3 122.3,207.9 122.5,206.5 122.8,206.2 123.0,206.3 123.2,206.9 123.5,206.4 123.7,208.5 123.9,208.3 124.2,206.9 124.4,207.6 124.6,205.5 124.9,207.6 125.1,205.3 125.3,207.6 125.6,208.2 125.8,206.7 126.0,207.0 126.3,207.2 126.5,205.5 126.7,207.7 127.0,205.9 127.2,205.3 127.4,206.8 127.7,206.6 127.9,205.0 128.1,206.2 128.4,207.9 128.6,208.3 128.8,208.3 129.1,207.3 129.3,208.3 129.5,206.1 129.8,206.9 130.0,207.4 130.2,206.6 130.5,205.0 130.7,207.7 131.0,208.0 131.2,207.4 131.4,207.4 131.7,205.1 131.9,205.9 132.1,207.0 132.4,208.0 132.6,208.5 132.8,208.2 133.1,205.4 133.3,206.1 133.5,208.0 133.8,206.2 134.0,208.4 134.2,206.7 134.5,207.4 134.7,208.3 134.9,205.8 135.2,205.9 135.4,206.7 135.6,208.0 135.9,206.1 136.1,207.0 136.3,206.1 136.6,208.3 136.8,205.2 137.0,208.7 137.3,207.8 137.5,207.2 137.7,207.9 138.0,208.4 138.2,206.1 138.4,204.9 138.7,207.4 138.9,207.7 139.1,206.2 139.4,207.9 139.6,207.2 139.8,206.1 140.1,207.1 140.3,208.1 140.5,208.5 140.8,206.7 141.0,205.0 141.3,205.2 141.5,208.4 141.7,206.8 142.0,206.9 142.2,208.0 142.4,206.2 142.7,206.9 142.9,205.7 143.1,207.7 143.4,205.2 143.6,205.7 143.8,207.0 144.1,208.2 144.3,206.9 144.5,208.3 144.8,206.2 145.0,206.2 145.2,206.6 145.5,205.1 145.7,208.6 145.9,206.1 146.2,205.8 146.4,208.4 146.6,207.6 146.9,208.6 147.1,206.6 147.3,206.1 147.6,207.5 147.8,206.2 148.0,207.4 148.3,206.2 148.5,207.8 148.7,205.2 149.0,207.2 149.2,208.8 149.4,208.5 149.7,206.1 149.9,205.5 150.1,206.2 150.4,207.7 150.6,204.2 150.9,203.4 151.1,200.5 151.2,198.9 151.3,198.2 151.4,199.2 151.6,200.5 151.8,204.1 152.0,204.3 152.3,204.6 152.5,207.4 152.7,205.4 153.0,205.9 153.2,205.7 153.4,206.7 153.7,205.3 153.9,206.5 154.1,205.4 154.4,206.8 154.6,208.2 154.8,207.0 155.1,207.1 155.3,207.6 155.5,207.5 155.8,207.0 156.0,206.7 156.2,208.1 156.5,207.9 156.7,207.1 156.9,207.1 157.2,207.4 157.4,206.5 157.6,208.2 157.9,207.0 158.1,207.9 158.3,206.1 158.6,206.4 158.8,206.1 159.0,207.0 159.3,208.0 159.5,205.6 159.7,207.1 160.0,207.6 160.2,207.9 160.4,207.5 160.7,206.4 160.9,206.0 161.2,207.2 161.4,206.3 161.6,208.2 161.9,207.3 162.1,207.7 162.3,207.8 162.6,207.7 162.8,206.2 163.0,206.3 163.3,208.2 163.5,208.1 163.7,206.2 164.0,206.6 164.2,206.6 164.4,206.7 164.7,206.5 164.9,208.0 165.1,208.8 165.4,207.7 165.6,208.9 165.8,205.6 166.1,207.1 166.3,206.6 166.5,205.6 166.8,206.1 167.0,208.2 167.2,207.8 167.5,208.6 167.7,206.2 167.9,206.4 168.2,207.3 168.4,207.7 168.6,208.1 168.9,207.3 169.1,206.5 169.3,205.9 169.6,206.0 169.8,206.0 170.0,207.5 170.3,207.5 170.5,207.9 170.8,205.6 171.0,208.4 171.2,208.5 171.5,208.0 171.7,205.8 171.9,206.1 172.2,207.9 172.4,206.1 172.6,205.9 172.9,207.6 173.1,208.4 173.3,206.4 173.6,207.7 173.8,208.6 174.0,205.9 174.3,207.5 174.5,207.7 174.7,207.0 175.0,208.2 175.2,209.0 175.4,207.7 175.7,207.8 175.9,209.0 176.1,207.8 176.4,206.4 176.6,207.9 176.8,206.7 177.1,206.9 177.3,208.4 177.5,209.0 177.8,206.8 178.0,207.0 178.2,208.1 178.5,208.4 178.7,206.2 178.9,206.0 179.2,208.3 179.4,207.1 179.6,207.1 179.9,208.0 180.1,209.0 180.3,208.0 180.6,206.9 180.8,207.1 181.1,207.4 181.3,208.7 181.5,208.4 181.8,208.1 182.0,207.7 182.2,207.9 182.5,206.1 182.7,208.7 182.9,205.8 183.2,208.3 183.4,206.2 183.6,208.3 183.9,207.2 184.1,207.9 184.3,209.0 184.6,206.5 184.8,206.4 185.0,208.2 185.3,206.5 185.5,207.5 185.7,205.8 186.0,209.0 186.2,207.9 186.4,208.4 186.7,207.1 186.9,206.6 187.1,206.4 187.4,207.3 187.6,207.9 187.8,206.5 188.1,208.8 188.3,208.3 188.5,206.7 188.8,207.7 189.0,205.9 189.2,208.9 189.5,207.7 189.7,208.5 189.9,209.2 190.2,208.9 190.4,208.9 190.7,208.0 190.9,207.8 191.1,207.5 191.4,208.2 191.6,206.9 191.8,207.5 192.1,206.0 192.3,208.7 192.5,207.5 192.8,207.6 193.0,208.0 193.2,206.4 193.5,208.5 193.7,206.3 193.9,208.1 194.2,208.1 194.4,207.2 194.6,207.4 194.9,208.3 195.1,209.0 195.3,206.1 195.6,208.0 195.8,208.9 196.0,207.1 196.3,207.5 196.5,208.2 196.7,208.2 197.0,206.5 197.2,208.2 197.4,207.9 197.7,206.2 197.9,208.1 198.1,208.0 198.4,208.7 198.6,207.1 198.8,207.1 199.1,207.8 199.3,208.0 199.5,208.5 199.8,206.7 200.0,207.8 200.2,206.6 200.5,208.1 200.7,206.9 201.0,209.2 201.2,208.6 201.4,206.2 201.7,207.1 201.9,207.1 202.1,207.7 202.4,207.8 202.6,208.7 202.8,208.7 203.1,207.2 203.3,207.1 203.5,208.5 203.8,207.3 204.0,208.9 204.2,207.4 204.5,208.8 204.7,207.7 204.9,208.3 205.2,207.6 205.4,208.9 205.6,207.8 205.9,207.4 206.1,208.8 206.3,208.2 206.6,206.8 206.8,206.8 207.0,205.6 207.3,202.5 207.5,197.3 207.7,189.8 207.8,188.8 207.9,187.2 208.0,188.0 208.0,188.5 208.2,194.7 208.4,202.0 208.7,203.9 208.9,205.7 209.1,206.8 209.4,208.8 209.6,207.4 209.8,209.2 210.1,206.4 210.3,206.3 210.6,207.1 210.8,208.5 211.0,206.7 211.3,208.8 211.5,206.8 211.7,207.8 212.0,209.3 212.2,206.6 212.4,208.0 212.7,206.8 212.9,207.3 213.1,207.7 213.4,206.7 213.6,208.8 213.8,206.6 214.1,208.3 214.3,209.3 214.5,208.4 214.8,209.2 215.0,209.2 215.2,207.5 215.5,209.0 215.7,208.9 215.9,208.5 216.2,208.6 216.4,206.6 216.6,206.6 216.9,206.8 217.1,206.4 217.3,208.1 217.6,207.0 217.8,208.6 218.0,206.6 218.3,207.0 218.5,207.2 218.7,208.7 219.0,209.1 219.2,206.6 219.4,207.8 219.7,207.6 219.9,206.8 220.1,209.0 220.4,207.3 220.6,208.0 220.9,207.1 221.1,208.1 221.3,208.9 221.6,206.6 221.8,208.6 222.0,207.2 222.3,207.0 222.5,208.7 222.7,207.4 223.0,208.3 223.2,208.8 223.4,208.8 223.7,206.6 223.9,208.4 224.1,207.9 224.4,208.0 224.6,209.4 224.8,207.2 225.1,207.3 225.3,206.9 225.5,208.4 225.8,208.9 226.0,208.5 226.2,207.3 226.5,207.5 226.7,208.3 226.9,207.9 227.2,209.0 227.4,206.8 227.6,208.1 227.9,208.0 228.1,207.2 228.3,208.9 228.6,207.3 228.8,208.2 229.0,206.5 229.3,207.8 229.5,205.3 229.7,199.8 230.0,193.9 230.0,193.3 230.1,192.1 230.2,192.8 230.3,193.2 230.5,198.2 230.7,202.6 230.9,206.9 231.2,206.3 231.4,207.5 231.6,207.6 231.9,207.6 232.1,209.1 232.3,207.3 232.6,208.7 232.8,207.0 233.0,207.3 233.3,207.6 233.5,207.2 233.7,208.3 234.0,207.6 234.2,206.8 234.4,209.0 234.7,209.3 234.9,208.4 235.1,208.1 235.4,209.1 235.6,208.9 235.8,207.1 236.1,208.4 236.3,209.1 236.5,209.0 236.8,207.9 237.0,209.0 237.2,208.2 237.5,208.0 237.7,208.3 237.9,208.1 238.2,207.2 238.4,209.5 238.6,206.9 238.9,209.0 239.1,209.5 239.3,207.4 239.6,208.0 239.8,208.1 240.1,209.0 240.3,207.4 240.5,208.7 240.8,207.5 241.0,208.9 241.2,208.0 241.5,207.8 241.7,208.6 241.9,208.3 242.2,209.4 242.4,207.8 242.6,207.7 242.9,209.2 243.1,208.1 243.3,207.6 243.6,209.3 243.8,207.3 244.0,207.2 244.3,209.5 244.5,208.9 244.7,209.4 245.0,208.9 245.2,209.4 245.4,208.3 245.7,208.9 245.9,208.8 246.1,208.4 246.4,208.6 246.6,207.5 246.8,207.6 247.1,209.3 247.3,209.0 247.5,209.6 247.8,208.7 248.0,209.3 248.2,207.7 248.5,207.5 248.7,206.9 248.9,209.1 249.2,209.6 249.4,207.6 249.6,208.5 249.9,207.1 250.1,208.6 250.4,208.8 250.6,209.5 250.8,207.1 251.1,208.3 251.3,208.5 251.5,208.5 251.8,207.6 252.0,207.4 252.2,208.4 252.5,209.2 252.7,208.6 252.9,207.3 253.2,208.6 253.4,207.9 253.6,208.2 253.9,208.4 254.1,208.1 254.3,209.0 254.6,208.2 254.8,207.4 255.0,209.5 255.3,208.7 255.5,207.3 255.7,207.1 256.0,209.7 256.2,208.0 256.4,208.0 256.7,207.5 256.9,208.5 257.1,209.4 257.4,208.9 257.6,207.8 257.8,207.8 258.1,209.2 258.3,208.0 258.5,208.0 258.8,208.0 259.0,209.7 259.2,208.6 259.5,208.9 259.7,208.2 260.0,208.8 260.2,209.4 260.4,208.0 260.7,209.0 260.9,207.7 261.1,208.9 261.4,208.3 261.6,207.6 261.8,209.4 262.1,207.8 262.3,209.6 262.5,207.3 262.8,209.7 263.0,207.9 263.2,208.8 263.5,209.3 263.7,208.7 263.9,208.5 264.2,208.7 264.4,209.4 264.6,208.4 264.9,209.0 265.1,207.3 265.3,208.8 265.6,208.6 265.8,209.2 266.0,207.3 266.3,208.9 266.5,208.1 266.7,207.6 267.0,208.8 267.2,207.8 267.4,209.1 267.7,209.5 267.9,209.7 268.1,208.6 268.4,207.6 268.6,209.3 268.8,208.7 269.1,207.9 269.3,209.1 269.5,209.4 269.8,208.5 270.0,208.7 270.3,207.4 270.5,207.5 270.7,209.2 271.0,208.4 271.2,208.8 271.4,209.7 271.7,208.7 271.9,207.5 272.1,209.1 272.4,208.3 272.6,208.0 272.8,209.7 273.1,207.5 273.3,209.5 273.5,209.1 273.8,208.0 274.0,209.8 274.2,208.9 274.5,209.5 274.7,208.7 274.9,209.8 275.2,209.5 275.4,209.3 275.6,209.6 275.9,209.6 276.1,209.4 276.3,208.6 276.6,209.5 276.8,207.8 277.0,208.8 277.3,209.2 277.5,209.3 277.7,207.8 278.0,209.7 278.2,208.0 278.4,209.6 278.7,207.6 278.9,208.9 279.1,208.4 279.4,207.7 279.6,209.6 279.9,209.6 280.1,207.9 280.3,207.8 280.6,206.7 280.8,205.3 281.0,201.6 281.1,200.4 281.3,199.6 281.4,200.3 281.5,201.5 281.7,205.6 282.0,207.8 282.2,207.7 282.4,209.4 282.7,207.8 282.9,208.6 283.1,209.3 283.4,209.6 283.6,208.7 283.8,208.7 284.1,208.2 284.3,209.0 284.5,208.9 284.8,207.8 285.0,209.2 285.2,207.6 285.5,207.8 285.7,207.6 285.9,207.7 286.2,209.3 286.4,208.0 286.6,208.5 286.9,209.4 287.1,207.6 287.3,208.4 287.6,208.0 287.8,208.6 288.0,209.7 288.3,207.9 288.5,209.5 288.7,209.3 289.0,208.5 289.2,209.5 289.4,208.8 289.7,208.3 289.9,209.7 290.2,208.4 290.4,209.7 290.6,208.8" fill="none" stroke="url(#hhigh)" stroke-width="1.1" stroke-linejoin="round"/>
<path d="M88.7,192.8 88.8,191.8 88.9,190.5 89.0,188.9 89.0,186.9 89.1,184.3 89.2,180.8 89.3,176.0 89.4,169.0 89.4,159.0 89.5,145.3 89.6,130.6 89.7,125.9 89.7,132.9 89.8,147.6 89.9,161.2 90.0,171.1 90.1,178.0 90.1,182.7 90.2,186.0 90.3,188.5 90.4,190.3 90.4,191.8 90.5,192.9 90.6,193.9 90.7,194.8" fill="none" stroke="#8a4e3a" stroke-width="1.7"/>
<rect x="45" y="88" width="257.2" height="212.3" fill="none" stroke="#4c4c4c" stroke-width="1.6"/>
<line x1="41" y1="300.4" x2="45.2" y2="300.4" stroke="#3a3a3a" stroke-width="1.3"/>
<text x="37" y="305.1" font-size="12.2" text-anchor="end">0</text>
<line x1="41" y1="261.7" x2="45.2" y2="261.7" stroke="#3a3a3a" stroke-width="1.3"/>
<text x="37" y="266.4" font-size="12.2" text-anchor="end">2</text>
<line x1="41" y1="223.1" x2="45.2" y2="223.1" stroke="#3a3a3a" stroke-width="1.3"/>
<text x="37" y="227.8" font-size="12.2" text-anchor="end">4</text>
<line x1="41" y1="184.4" x2="45.2" y2="184.4" stroke="#3a3a3a" stroke-width="1.3"/>
<text x="37" y="189.1" font-size="12.2" text-anchor="end">6</text>
<line x1="41" y1="145.8" x2="45.2" y2="145.8" stroke="#3a3a3a" stroke-width="1.3"/>
<text x="37" y="150.5" font-size="12.2" text-anchor="end">8</text>
<line x1="41" y1="107.1" x2="45.2" y2="107.1" stroke="#3a3a3a" stroke-width="1.3"/>
<text x="37" y="111.8" font-size="12.2" text-anchor="end" textLength="13.4" lengthAdjust="spacingAndGlyphs">10</text>
<line x1="56.5" y1="300.4" x2="56.5" y2="304" stroke="#3a3a3a" stroke-width="1.3"/>
<text x="56.5" y="317" font-size="12.2" text-anchor="middle" textLength="13.8" lengthAdjust="spacingAndGlyphs">20</text>
<line x1="95.5" y1="300.4" x2="95.5" y2="304" stroke="#3a3a3a" stroke-width="1.3"/>
<text x="95.5" y="317" font-size="12.2" text-anchor="middle" textLength="13.8" lengthAdjust="spacingAndGlyphs">30</text>
<line x1="134.5" y1="300.4" x2="134.5" y2="304" stroke="#3a3a3a" stroke-width="1.3"/>
<text x="134.5" y="317" font-size="12.2" text-anchor="middle" textLength="13.8" lengthAdjust="spacingAndGlyphs">40</text>
<line x1="173.6" y1="300.4" x2="173.6" y2="304" stroke="#3a3a3a" stroke-width="1.3"/>
<text x="173.6" y="317" font-size="12.2" text-anchor="middle" textLength="13.8" lengthAdjust="spacingAndGlyphs">50</text>
<line x1="212.6" y1="300.4" x2="212.6" y2="304" stroke="#3a3a3a" stroke-width="1.3"/>
<text x="212.6" y="317" font-size="12.2" text-anchor="middle" textLength="13.8" lengthAdjust="spacingAndGlyphs">60</text>
<line x1="251.6" y1="300.4" x2="251.6" y2="304" stroke="#3a3a3a" stroke-width="1.3"/>
<text x="251.6" y="317" font-size="12.2" text-anchor="middle" textLength="13.8" lengthAdjust="spacingAndGlyphs">70</text>
<line x1="290.6" y1="300.4" x2="290.6" y2="304" stroke="#3a3a3a" stroke-width="1.3"/>
<text x="290.6" y="317" font-size="12.2" text-anchor="middle" textLength="13.8" lengthAdjust="spacingAndGlyphs">80</text>
<text x="173.5" y="331.8" font-size="12.2" text-anchor="middle" textLength="32.6" lengthAdjust="spacingAndGlyphs">2Θ [<tspan font-size="8.6" dy="-4.4">o</tspan><tspan dy="4.4">]</tspan></text>
<text transform="translate(16.5,194.2) rotate(-90)" font-size="12.2" text-anchor="middle" textLength="61.8" lengthAdjust="spacingAndGlyphs">log(I) [arb.]</text>
<text x="90.8" y="120.2" font-size="11.3" text-anchor="middle" textLength="33.2" lengthAdjust="spacingAndGlyphs">Si(111)</text>
<text x="292.5" y="343.4" font-size="15.6" text-anchor="middle" textLength="21" lengthAdjust="spacingAndGlyphs" style="font-family:'Liberation Serif',serif;stroke:none">(<tspan font-style="italic">a</tspan>)</text>
<path d="M151.2,189.6L151.2,194.8M153.5,190.9L148.9,193.5M153.5,193.5L148.9,190.9" stroke="#1a1a1a" stroke-width="1.6" stroke-linecap="round" fill="none"/>
<path d="M230.0,184.6L230.0,189.8M232.3,185.9L227.7,188.5M232.3,188.5L227.7,185.9" stroke="#1a1a1a" stroke-width="1.6" stroke-linecap="round" fill="none"/>
<path d="M280.9,191.8L280.9,197.0M283.2,193.1L278.6,195.7M283.2,195.7L278.6,193.1" stroke="#1a1a1a" stroke-width="1.6" stroke-linecap="round" fill="none"/>
<path d="M209.4,179.9 Q208,181.2 207.6,183.1" stroke="#111" stroke-width="2.1" fill="none" stroke-linecap="round"/>
<rect x="168.4" y="93.3" width="128.3" height="67.3" rx="2" fill="#fff" fill-opacity="0.8" stroke="#d6d6d6" stroke-width="0.9"/>
<rect x="169.2" y="95.5" width="30.5" height="12.5" fill="#f1fdfd"/>
<rect x="169.2" y="110.8" width="30.5" height="15.2" fill="#fef4fb"/>
<rect x="169.2" y="127.8" width="30.5" height="12.8" fill="#f1fdfc"/>
<rect x="169.2" y="143.0" width="30.5" height="15.5" fill="#fef4fb"/>
<line x1="172" y1="102.3" x2="196" y2="102.3" stroke="#3556a6" stroke-width="1.6"/>
<text x="204.3" y="106.4" font-size="12" textLength="53.6" lengthAdjust="spacingAndGlyphs">Substrate</text>
<line x1="172" y1="118.6" x2="196" y2="118.6" stroke="#c9a42a" stroke-width="1.6"/>
<text x="204.3" y="122.7" font-size="12" textLength="76.8" lengthAdjust="spacingAndGlyphs">Low: 1.3 nm/s</text>
<line x1="172" y1="134.9" x2="196" y2="134.9" stroke="#4a8c38" stroke-width="1.6"/>
<text x="204.3" y="139.0" font-size="12" textLength="86.3" lengthAdjust="spacingAndGlyphs">Med: 10.2 nm/s</text>
<line x1="172" y1="151.1" x2="196" y2="151.1" stroke="#7d5034" stroke-width="1.6"/>
<text x="204.3" y="155.2" font-size="12" textLength="88.2" lengthAdjust="spacingAndGlyphs">High: 23.3 nm/s</text>
<rect x="362.4" y="9.6" width="180.3" height="126.8" fill="none" stroke="#555" stroke-width="1.1"/>
<line x1="369.5" y1="136.4" x2="369.5" y2="139.0" stroke="#3a3a3a" stroke-width="1"/>
<line x1="404.1" y1="136.4" x2="404.1" y2="139.0" stroke="#3a3a3a" stroke-width="1"/>
<line x1="438.8" y1="136.4" x2="438.8" y2="139.0" stroke="#3a3a3a" stroke-width="1"/>
<line x1="473.4" y1="136.4" x2="473.4" y2="139.0" stroke="#3a3a3a" stroke-width="1"/>
<line x1="508.1" y1="136.4" x2="508.1" y2="139.0" stroke="#3a3a3a" stroke-width="1"/>
<line x1="542.8" y1="136.4" x2="542.8" y2="139.0" stroke="#3a3a3a" stroke-width="1"/>
<rect x="362.4" y="142.1" width="180.3" height="126.4" fill="none" stroke="#555" stroke-width="1.1"/>
<line x1="369.5" y1="268.5" x2="369.5" y2="271.1" stroke="#3a3a3a" stroke-width="1"/>
<line x1="404.1" y1="268.5" x2="404.1" y2="271.1" stroke="#3a3a3a" stroke-width="1"/>
<line x1="438.8" y1="268.5" x2="438.8" y2="271.1" stroke="#3a3a3a" stroke-width="1"/>
<line x1="473.4" y1="268.5" x2="473.4" y2="271.1" stroke="#3a3a3a" stroke-width="1"/>
<line x1="508.1" y1="268.5" x2="508.1" y2="271.1" stroke="#3a3a3a" stroke-width="1"/>
<line x1="542.8" y1="268.5" x2="542.8" y2="271.1" stroke="#3a3a3a" stroke-width="1"/>
<rect x="362.4" y="274.5" width="180.3" height="127.1" fill="none" stroke="#555" stroke-width="1.1"/>
<line x1="369.5" y1="401.6" x2="369.5" y2="404.2" stroke="#3a3a3a" stroke-width="1"/>
<text x="369.5" y="414.6" font-size="8.6" text-anchor="middle">0</text>
<line x1="404.1" y1="401.6" x2="404.1" y2="404.2" stroke="#3a3a3a" stroke-width="1"/>
<text x="404.1" y="414.6" font-size="8.6" text-anchor="middle">5</text>
<line x1="438.8" y1="401.6" x2="438.8" y2="404.2" stroke="#3a3a3a" stroke-width="1"/>
<text x="438.8" y="414.6" font-size="8.6" text-anchor="middle" textLength="10.6" lengthAdjust="spacingAndGlyphs">10</text>
<line x1="473.4" y1="401.6" x2="473.4" y2="404.2" stroke="#3a3a3a" stroke-width="1"/>
<text x="473.4" y="414.6" font-size="8.6" text-anchor="middle" textLength="10.6" lengthAdjust="spacingAndGlyphs">15</text>
<line x1="508.1" y1="401.6" x2="508.1" y2="404.2" stroke="#3a3a3a" stroke-width="1"/>
<text x="508.1" y="414.6" font-size="8.6" text-anchor="middle" textLength="10.6" lengthAdjust="spacingAndGlyphs">20</text>
<line x1="542.8" y1="401.6" x2="542.8" y2="404.2" stroke="#3a3a3a" stroke-width="1"/>
<text x="542.8" y="414.6" font-size="8.6" text-anchor="middle" textLength="10.6" lengthAdjust="spacingAndGlyphs">25</text>
<line x1="359.8" y1="133.0" x2="362.4" y2="133.0" stroke="#3a3a3a" stroke-width="1"/>
<text x="356.4" y="136.1" font-size="8.6" text-anchor="end">0</text>
<line x1="359.8" y1="102.2" x2="362.4" y2="102.2" stroke="#3a3a3a" stroke-width="1"/>
<text x="356.4" y="105.2" font-size="8.6" text-anchor="end" textLength="10.6" lengthAdjust="spacingAndGlyphs">10</text>
<line x1="359.8" y1="71.3" x2="362.4" y2="71.3" stroke="#3a3a3a" stroke-width="1"/>
<text x="356.4" y="74.4" font-size="8.6" text-anchor="end" textLength="10.6" lengthAdjust="spacingAndGlyphs">20</text>
<line x1="359.8" y1="40.5" x2="362.4" y2="40.5" stroke="#3a3a3a" stroke-width="1"/>
<text x="356.4" y="43.6" font-size="8.6" text-anchor="end" textLength="10.6" lengthAdjust="spacingAndGlyphs">30</text>
<line x1="359.8" y1="9.6" x2="362.4" y2="9.6" stroke="#3a3a3a" stroke-width="1"/>
<text x="356.4" y="12.7" font-size="8.6" text-anchor="end" textLength="10.6" lengthAdjust="spacingAndGlyphs">40</text>
<line x1="359.6" y1="268.5" x2="362.4" y2="268.5" stroke="#333" stroke-width="1"/>
<text x="348.4" y="272.2" font-size="8.8" text-anchor="end" textLength="10.4" lengthAdjust="spacingAndGlyphs">10</text>
<text x="348.7" y="268.7" font-size="6.3">−2</text>
<line x1="360.6" y1="259.6" x2="362.4" y2="259.6" stroke="#333" stroke-width="0.9"/>
<line x1="360.6" y1="254.5" x2="362.4" y2="254.5" stroke="#333" stroke-width="0.9"/>
<line x1="360.6" y1="250.8" x2="362.4" y2="250.8" stroke="#333" stroke-width="0.9"/>
<line x1="360.6" y1="247.9" x2="362.4" y2="247.9" stroke="#333" stroke-width="0.9"/>
<line x1="360.6" y1="245.6" x2="362.4" y2="245.6" stroke="#333" stroke-width="0.9"/>
<line x1="360.6" y1="243.6" x2="362.4" y2="243.6" stroke="#333" stroke-width="0.9"/>
<line x1="360.6" y1="241.9" x2="362.4" y2="241.9" stroke="#333" stroke-width="0.9"/>
<line x1="360.6" y1="240.4" x2="362.4" y2="240.4" stroke="#333" stroke-width="0.9"/>
<line x1="359.6" y1="239.1" x2="362.4" y2="239.1" stroke="#333" stroke-width="1"/>
<text x="348.4" y="242.8" font-size="8.8" text-anchor="end" textLength="10.4" lengthAdjust="spacingAndGlyphs">10</text>
<text x="348.7" y="239.3" font-size="6.3">−1</text>
<line x1="360.6" y1="230.2" x2="362.4" y2="230.2" stroke="#333" stroke-width="0.9"/>
<line x1="360.6" y1="225.0" x2="362.4" y2="225.0" stroke="#333" stroke-width="0.9"/>
<line x1="360.6" y1="221.4" x2="362.4" y2="221.4" stroke="#333" stroke-width="0.9"/>
<line x1="360.6" y1="218.5" x2="362.4" y2="218.5" stroke="#333" stroke-width="0.9"/>
<line x1="360.6" y1="216.2" x2="362.4" y2="216.2" stroke="#333" stroke-width="0.9"/>
<line x1="360.6" y1="214.2" x2="362.4" y2="214.2" stroke="#333" stroke-width="0.9"/>
<line x1="360.6" y1="212.5" x2="362.4" y2="212.5" stroke="#333" stroke-width="0.9"/>
<line x1="360.6" y1="211.0" x2="362.4" y2="211.0" stroke="#333" stroke-width="0.9"/>
<line x1="359.6" y1="209.7" x2="362.4" y2="209.7" stroke="#333" stroke-width="1"/>
<text x="352.7" y="213.4" font-size="8.8" text-anchor="end" textLength="10.4" lengthAdjust="spacingAndGlyphs">10</text>
<text x="353.0" y="209.9" font-size="6.3">0</text>
<line x1="360.6" y1="200.8" x2="362.4" y2="200.8" stroke="#333" stroke-width="0.9"/>
<line x1="360.6" y1="195.6" x2="362.4" y2="195.6" stroke="#333" stroke-width="0.9"/>
<line x1="360.6" y1="191.9" x2="362.4" y2="191.9" stroke="#333" stroke-width="0.9"/>
<line x1="360.6" y1="189.1" x2="362.4" y2="189.1" stroke="#333" stroke-width="0.9"/>
<line x1="360.6" y1="186.8" x2="362.4" y2="186.8" stroke="#333" stroke-width="0.9"/>
<line x1="360.6" y1="184.8" x2="362.4" y2="184.8" stroke="#333" stroke-width="0.9"/>
<line x1="360.6" y1="183.1" x2="362.4" y2="183.1" stroke="#333" stroke-width="0.9"/>
<line x1="360.6" y1="181.6" x2="362.4" y2="181.6" stroke="#333" stroke-width="0.9"/>
<line x1="359.6" y1="180.2" x2="362.4" y2="180.2" stroke="#333" stroke-width="1"/>
<text x="352.7" y="183.9" font-size="8.8" text-anchor="end" textLength="10.4" lengthAdjust="spacingAndGlyphs">10</text>
<text x="353.0" y="180.4" font-size="6.3">1</text>
<line x1="360.6" y1="171.4" x2="362.4" y2="171.4" stroke="#333" stroke-width="0.9"/>
<line x1="360.6" y1="166.2" x2="362.4" y2="166.2" stroke="#333" stroke-width="0.9"/>
<line x1="360.6" y1="162.5" x2="362.4" y2="162.5" stroke="#333" stroke-width="0.9"/>
<line x1="360.6" y1="159.7" x2="362.4" y2="159.7" stroke="#333" stroke-width="0.9"/>
<line x1="360.6" y1="157.3" x2="362.4" y2="157.3" stroke="#333" stroke-width="0.9"/>
<line x1="360.6" y1="155.4" x2="362.4" y2="155.4" stroke="#333" stroke-width="0.9"/>
<line x1="360.6" y1="153.7" x2="362.4" y2="153.7" stroke="#333" stroke-width="0.9"/>
<line x1="360.6" y1="152.2" x2="362.4" y2="152.2" stroke="#333" stroke-width="0.9"/>
<line x1="359.6" y1="150.8" x2="362.4" y2="150.8" stroke="#333" stroke-width="1"/>
<text x="352.7" y="154.5" font-size="8.8" text-anchor="end" textLength="10.4" lengthAdjust="spacingAndGlyphs">10</text>
<text x="353.0" y="151.0" font-size="6.3">2</text>
<line x1="359.8" y1="401.4" x2="362.4" y2="401.4" stroke="#3a3a3a" stroke-width="1"/>
<text x="356.4" y="404.5" font-size="8.6" text-anchor="end">0</text>
<line x1="359.8" y1="373.4" x2="362.4" y2="373.4" stroke="#3a3a3a" stroke-width="1"/>
<text x="356.4" y="376.5" font-size="8.6" text-anchor="end" textLength="10.6" lengthAdjust="spacingAndGlyphs">10</text>
<line x1="359.8" y1="345.4" x2="362.4" y2="345.4" stroke="#3a3a3a" stroke-width="1"/>
<text x="356.4" y="348.5" font-size="8.6" text-anchor="end" textLength="10.6" lengthAdjust="spacingAndGlyphs">20</text>
<line x1="359.8" y1="317.4" x2="362.4" y2="317.4" stroke="#3a3a3a" stroke-width="1"/>
<text x="356.4" y="320.5" font-size="8.6" text-anchor="end" textLength="10.6" lengthAdjust="spacingAndGlyphs">30</text>
<line x1="359.8" y1="289.4" x2="362.4" y2="289.4" stroke="#3a3a3a" stroke-width="1"/>
<text x="356.4" y="292.5" font-size="8.6" text-anchor="end" textLength="10.6" lengthAdjust="spacingAndGlyphs">40</text>
<text transform="translate(340.8,73.1) rotate(-90)" font-size="9" text-anchor="middle" textLength="68.5" lengthAdjust="spacingAndGlyphs">Roughness [nm]</text>
<text transform="translate(331.8,205.3) rotate(-90)" font-size="9" text-anchor="middle" textLength="71.5" lengthAdjust="spacingAndGlyphs">Resistivity [<tspan font-style="italic">Ωcm</tspan>]</text>
<text transform="translate(340.8,338.2) rotate(-90)" font-size="9" text-anchor="middle" textLength="89" lengthAdjust="spacingAndGlyphs">Residual stress [MPa]</text>
<text x="452.6" y="426" font-size="8.9" text-anchor="middle" textLength="81.4" lengthAdjust="spacingAndGlyphs">Growth-rate [nm/s]</text>
<text x="531.2" y="129.7" font-size="14.8" text-anchor="middle" textLength="20.1" lengthAdjust="spacingAndGlyphs" style="font-family:'Liberation Serif',serif;stroke:none">(<tspan font-style="italic">b</tspan>)</text>
<text x="531.8" y="263.8" font-size="14.8" text-anchor="middle" textLength="19.2" lengthAdjust="spacingAndGlyphs" style="font-family:'Liberation Serif',serif;stroke:none">(<tspan font-style="italic">c</tspan>)</text>
<text x="530.4" y="396.8" font-size="14.8" text-anchor="middle" textLength="21.2" lengthAdjust="spacingAndGlyphs" style="font-family:'Liberation Serif',serif;stroke:none">(<tspan font-style="italic">d</tspan>)</text>
<polyline points="385.0,116.9 475.8,105.8 531.0,81.7" fill="none" stroke="#000" stroke-width="1.7" stroke-dasharray="1.7 2.75"/>
<line x1="385.0" y1="108.3" x2="385.0" y2="125.0" stroke="#000" stroke-width="1.4"/>
<line x1="382.4" y1="108.3" x2="387.6" y2="108.3" stroke="#000" stroke-width="1.4"/>
<line x1="382.4" y1="125.0" x2="387.6" y2="125.0" stroke="#000" stroke-width="1.4"/>
<rect x="382.2" y="114.1" width="5.6" height="5.6" fill="#000"/>
<line x1="475.8" y1="87.1" x2="475.8" y2="124.4" stroke="#000" stroke-width="1.4"/>
<line x1="473.2" y1="87.1" x2="478.4" y2="87.1" stroke="#000" stroke-width="1.4"/>
<line x1="473.2" y1="124.4" x2="478.4" y2="124.4" stroke="#000" stroke-width="1.4"/>
<rect x="473.0" y="103.0" width="5.6" height="5.6" fill="#000"/>
<line x1="531.0" y1="58.8" x2="531.0" y2="104.6" stroke="#000" stroke-width="1.4"/>
<line x1="528.4" y1="58.8" x2="533.6" y2="58.8" stroke="#000" stroke-width="1.4"/>
<line x1="528.4" y1="104.6" x2="533.6" y2="104.6" stroke="#000" stroke-width="1.4"/>
<rect x="528.2" y="78.9" width="5.6" height="5.6" fill="#000"/>
<polyline points="384.7,198.4 476.3,185.6 530.3,173.2" fill="none" stroke="#000" stroke-width="1.7" stroke-dasharray="1.7 2.75"/>
<rect x="381.9" y="195.6" width="5.6" height="5.6" fill="#000"/>
<rect x="473.5" y="182.8" width="5.6" height="5.6" fill="#000"/>
<rect x="527.5" y="170.4" width="5.6" height="5.6" fill="#000"/>
<polyline points="385.2,396.5 476.0,379.0 531.1,281.2" fill="none" stroke="#000" stroke-width="1.7" stroke-dasharray="1.7 2.75"/>
<rect x="382.4" y="393.7" width="5.6" height="5.6" fill="#000"/>
<rect x="473.2" y="376.2" width="5.6" height="5.6" fill="#000"/>
<rect x="528.3" y="278.4" width="5.6" height="5.6" fill="#000"/>
<rect x="367.7" y="15.1" width="73.8" height="16.4" rx="2" fill="#fff" stroke="#d6d6d6" stroke-width="0.9"/>
<line x1="371.8" y1="23.0" x2="391.6" y2="23.0" stroke="#000" stroke-width="1.7" stroke-dasharray="1.7 2.75"/>
<line x1="381.7" y1="17.4" x2="381.7" y2="27.9" stroke="#000" stroke-width="1.3"/>
<line x1="379.4" y1="17.4" x2="384" y2="17.4" stroke="#000" stroke-width="1.3"/>
<line x1="379.4" y1="27.9" x2="384" y2="27.9" stroke="#000" stroke-width="1.3"/>
<rect x="379.0" y="20.2" width="5.6" height="5.6" fill="#000"/>
<text x="400.6" y="26.6" font-size="10" textLength="35.8" lengthAdjust="spacingAndGlyphs">Si(111)</text>
<rect x="367.7" y="147.4" width="73.8" height="18.0" rx="2" fill="#fff" stroke="#d6d6d6" stroke-width="0.9"/>
<line x1="371.8" y1="155.4" x2="391.6" y2="155.4" stroke="#000" stroke-width="1.7" stroke-dasharray="1.7 2.75"/>
<rect x="379.0" y="152.6" width="5.6" height="5.6" fill="#000"/>
<text x="400.6" y="159.0" font-size="10" textLength="35.8" lengthAdjust="spacingAndGlyphs">Si(111)</text>
</svg></body></html>
